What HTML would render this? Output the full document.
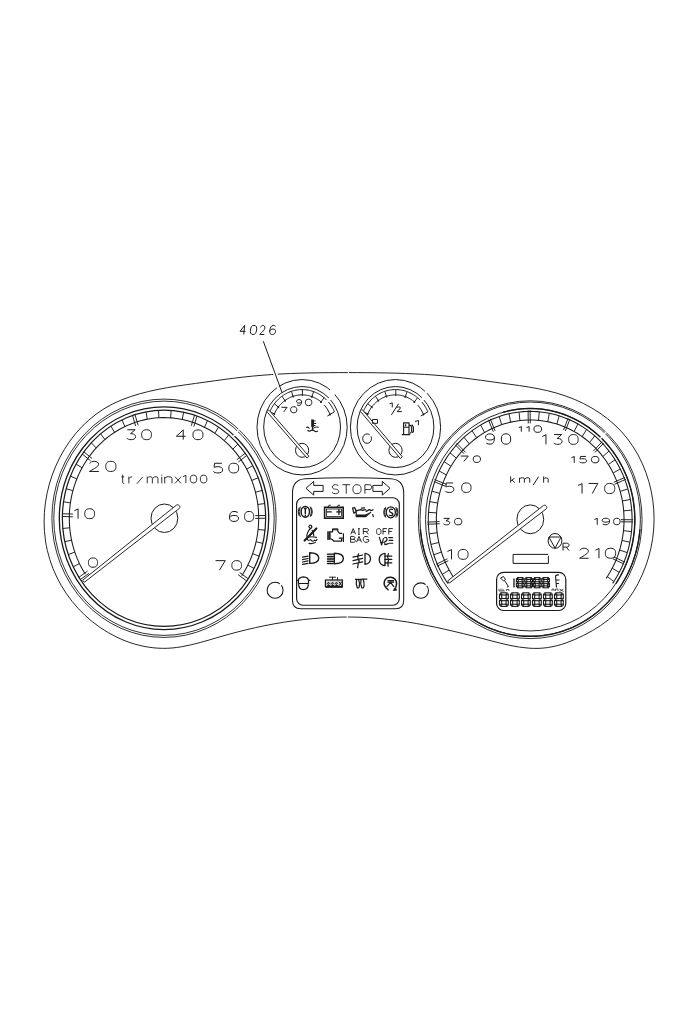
<!DOCTYPE html>
<html><head><meta charset="utf-8"><style>
html,body{margin:0;padding:0;background:#fff;}
svg{display:block;}
text{font-family:"Liberation Sans",sans-serif;}
</style></head><body>
<svg width="700" height="1020" viewBox="0 0 700 1020">
<rect width="700" height="1020" fill="#fff"/>
<path d="M347.98,372.60 C344.79,372.60 341.60,372.61 338.42,372.62 C335.23,372.63 332.04,372.64 328.86,372.67 C325.67,372.69 322.48,372.73 319.30,372.77 C316.12,372.82 312.93,372.87 309.75,372.94 C306.57,373.01 303.38,373.09 300.20,373.19 C297.02,373.29 293.84,373.40 290.66,373.53 C287.48,373.66 284.30,373.81 281.12,373.98 C277.95,374.15 274.77,374.34 271.59,374.55 C268.42,374.76 265.24,375.00 262.07,375.26 C258.90,375.51 255.72,375.80 252.55,376.11 C249.38,376.42 246.21,376.76 243.04,377.12 C239.87,377.48 236.70,377.86 233.54,378.26 C230.37,378.66 227.21,379.07 224.05,379.50 C220.89,379.92 217.73,380.36 214.57,380.79 C211.42,381.23 208.26,381.67 205.11,382.11 C201.96,382.55 198.81,382.99 195.67,383.42 C192.53,383.85 189.38,384.28 186.25,384.73 C183.11,385.17 179.98,385.63 176.85,386.11 C173.71,386.60 170.59,387.10 167.47,387.64 C164.34,388.19 161.22,388.77 158.11,389.40 C154.99,390.02 151.88,390.70 148.78,391.44 C145.67,392.18 142.57,392.98 139.47,393.85 C136.37,394.73 133.28,395.68 130.22,396.71 C127.15,397.75 124.12,398.87 121.14,400.09 C118.15,401.32 115.22,402.65 112.37,404.09 C109.51,405.53 106.73,407.10 104.03,408.77 C101.33,410.44 98.71,412.23 96.17,414.12 C93.63,416.00 91.17,418.00 88.80,420.08 C86.42,422.17 84.14,424.35 81.93,426.62 C79.73,428.88 77.62,431.24 75.59,433.67 C73.57,436.10 71.63,438.62 69.79,441.20 C67.94,443.78 66.19,446.43 64.53,449.15 C62.87,451.86 61.31,454.64 59.84,457.47 C58.38,460.30 57.01,463.18 55.74,466.11 C54.46,469.04 53.29,472.02 52.22,475.03 C51.15,478.04 50.18,481.10 49.32,484.18 C48.45,487.26 47.69,490.37 47.04,493.50 C46.39,496.63 45.84,499.78 45.40,502.94 C44.96,506.11 44.63,509.28 44.41,512.47 C44.20,515.65 44.09,518.84 44.10,522.02 C44.10,525.20 44.23,528.38 44.46,531.55 C44.70,534.72 45.06,537.88 45.53,541.02 C46.00,544.15 46.59,547.27 47.31,550.36 C48.02,553.45 48.85,556.51 49.80,559.54 C50.75,562.56 51.81,565.55 52.99,568.50 C54.17,571.45 55.45,574.36 56.85,577.22 C58.24,580.07 59.74,582.88 61.34,585.63 C62.94,588.39 64.64,591.08 66.45,593.71 C68.25,596.35 70.15,598.91 72.14,601.41 C74.13,603.91 76.21,606.34 78.38,608.69 C80.56,611.04 82.82,613.31 85.16,615.49 C87.51,617.68 89.94,619.78 92.44,621.79 C94.95,623.80 97.53,625.72 100.19,627.54 C102.84,629.36 105.56,631.07 108.34,632.68 C111.12,634.29 113.95,635.79 116.84,637.18 C119.73,638.57 122.66,639.84 125.64,640.98 C128.61,642.13 131.63,643.16 134.67,644.05 C137.72,644.94 140.79,645.70 143.89,646.33 C146.98,646.95 150.10,647.44 153.23,647.77 C156.35,648.11 159.49,648.30 162.63,648.34 C165.78,648.38 168.92,648.26 172.05,647.99 C175.19,647.71 178.32,647.30 181.45,646.77 C184.58,646.25 187.71,645.61 190.82,644.89 C193.94,644.17 197.06,643.38 200.17,642.53 C203.27,641.69 206.38,640.80 209.47,639.89 C212.57,638.99 215.66,638.07 218.74,637.17 C221.82,636.26 224.90,635.38 227.97,634.53 C231.04,633.68 234.10,632.85 237.17,632.05 C240.23,631.26 243.29,630.49 246.36,629.75 C249.43,629.01 252.50,628.29 255.58,627.61 C258.65,626.93 261.74,626.27 264.84,625.65 C267.94,625.03 271.04,624.43 274.17,623.87 C277.29,623.31 280.43,622.77 283.58,622.27 C286.72,621.77 289.88,621.30 293.05,620.87 C296.21,620.44 299.39,620.04 302.57,619.67 C305.75,619.31 308.94,618.98 312.13,618.68 C315.32,618.39 318.52,618.14 321.72,617.92 C324.92,617.70 328.12,617.52 331.32,617.38 C334.52,617.24 337.73,617.14 340.93,617.08 C344.13,617.03 347.32,617.01 350.52,617.03 C353.71,617.06 356.90,617.13 360.09,617.24 C363.27,617.35 366.45,617.51 369.62,617.71 C372.79,617.91 375.96,618.16 379.11,618.44 C382.27,618.72 385.43,619.05 388.57,619.41 C391.72,619.77 394.87,620.16 398.00,620.59 C401.14,621.02 404.28,621.49 407.41,621.99 C410.54,622.48 413.66,623.01 416.78,623.57 C419.91,624.12 423.02,624.71 426.14,625.32 C429.26,625.93 432.37,626.56 435.48,627.22 C438.59,627.88 441.70,628.56 444.81,629.26 C447.92,629.96 451.02,630.68 454.13,631.41 C457.23,632.15 460.33,632.90 463.44,633.67 C466.54,634.44 469.64,635.22 472.75,636.01 C475.85,636.80 478.95,637.61 482.06,638.42 C485.16,639.23 488.26,640.05 491.37,640.87 C494.47,641.69 497.58,642.49 500.69,643.26 C503.80,644.02 506.90,644.74 510.01,645.39 C513.12,646.04 516.23,646.62 519.34,647.09 C522.45,647.55 525.56,647.92 528.67,648.15 C531.78,648.37 534.89,648.46 538.00,648.38 C541.11,648.30 544.22,648.05 547.33,647.61 C550.44,647.16 553.55,646.54 556.64,645.75 C559.73,644.97 562.81,644.04 565.86,642.97 C568.91,641.91 571.93,640.72 574.92,639.44 C577.90,638.15 580.85,636.77 583.75,635.32 C586.65,633.87 589.49,632.34 592.28,630.73 C595.07,629.12 597.79,627.43 600.44,625.65 C603.09,623.87 605.66,622.01 608.15,620.04 C610.64,618.08 613.04,616.02 615.35,613.87 C617.65,611.71 619.85,609.45 621.95,607.09 C624.04,604.73 626.03,602.27 627.92,599.72 C629.81,597.18 631.59,594.55 633.27,591.85 C634.96,589.16 636.54,586.40 638.02,583.58 C639.50,580.76 640.88,577.89 642.17,574.98 C643.45,572.08 644.63,569.13 645.72,566.14 C646.80,563.15 647.78,560.13 648.66,557.08 C649.54,554.03 650.31,550.95 650.98,547.85 C651.65,544.75 652.21,541.62 652.66,538.48 C653.12,535.34 653.46,532.18 653.70,529.01 C653.94,525.83 654.06,522.65 654.08,519.47 C654.09,516.28 653.99,513.09 653.78,509.90 C653.57,506.71 653.24,503.52 652.80,500.35 C652.36,497.17 651.81,494.01 651.15,490.87 C650.49,487.73 649.72,484.61 648.84,481.53 C647.96,478.44 646.97,475.39 645.87,472.38 C644.78,469.37 643.57,466.41 642.26,463.50 C640.95,460.58 639.54,457.72 638.02,454.92 C636.50,452.13 634.87,449.39 633.14,446.73 C631.42,444.07 629.59,441.48 627.65,438.98 C625.72,436.47 623.69,434.05 621.56,431.72 C619.42,429.39 617.19,427.15 614.88,425.00 C612.56,422.85 610.16,420.79 607.68,418.83 C605.20,416.86 602.64,414.98 600.01,413.19 C597.38,411.40 594.69,409.70 591.94,408.09 C589.19,406.49 586.38,404.97 583.52,403.54 C580.66,402.11 577.76,400.77 574.81,399.53 C571.87,398.28 568.89,397.12 565.87,396.06 C562.86,394.99 559.83,394.02 556.77,393.13 C553.71,392.25 550.63,391.44 547.53,390.71 C544.44,389.98 541.33,389.31 538.20,388.71 C535.07,388.10 531.94,387.54 528.79,387.02 C525.64,386.51 522.49,386.03 519.33,385.57 C516.17,385.11 513.00,384.68 509.84,384.25 C506.67,383.82 503.50,383.40 500.34,382.98 C497.17,382.55 494.01,382.11 490.86,381.67 C487.70,381.23 484.54,380.79 481.39,380.35 C478.23,379.91 475.08,379.48 471.92,379.07 C468.77,378.65 465.61,378.24 462.45,377.86 C459.29,377.48 456.14,377.11 452.97,376.78 C449.81,376.45 446.64,376.14 443.48,375.85 C440.31,375.57 437.14,375.31 433.96,375.07 C430.79,374.83 427.62,374.62 424.44,374.42 C421.26,374.23 418.08,374.06 414.90,373.90 C411.72,373.74 408.54,373.60 405.36,373.48 C402.17,373.36 398.99,373.26 395.80,373.16 C392.62,373.07 389.43,373.00 386.24,372.93 C383.06,372.87 379.87,372.81 376.68,372.77 C373.49,372.73 370.30,372.69 367.11,372.67 C363.92,372.65 360.73,372.63 357.55,372.62 C354.36,372.61 351.17,372.60 347.98,372.60 Z" fill="none" stroke="#1a1a1a" stroke-width="0.95"/>
<rect x="347.9" y="370" width="0.9" height="5" fill="#fff"/>
<rect x="346.7" y="615" width="1.2" height="5" fill="#fff"/>
<path d="M273.3,374.7 L277.7,374.3" stroke="#fff" stroke-width="4"/>
<ellipse cx="164" cy="518.25" rx="112.1" ry="119.16" fill="none" stroke="#1a1a1a" stroke-width="0.9" />
<ellipse cx="164" cy="518.25" rx="110.2" ry="117.14" fill="none" stroke="#1a1a1a" stroke-width="0.9" />
<ellipse cx="164" cy="518.25" rx="104.7" ry="111.3" fill="none" stroke="#1a1a1a" stroke-width="1.3" />
<ellipse cx="164" cy="518.25" rx="101.65" ry="108.05" fill="none" stroke="#1a1a1a" stroke-width="1.2" />
<path d="M85.35,574.32 L83.55,571.36 L81.86,568.34 L80.26,565.25 L78.76,562.11 L77.37,558.91 L76.08,555.67 L74.91,552.37 L73.84,549.04 L72.88,545.67 L72.03,542.26 L71.3,538.82 L70.68,535.36 L70.17,531.88 L69.78,528.38 L69.51,524.87 L69.35,521.35 L69.3,517.83 L69.37,514.31 L69.56,510.79 L69.86,507.29 L70.28,503.79 L70.82,500.31 L71.46,496.86 L72.22,493.43 L73.1,490.03 L74.08,486.67 L75.18,483.34 L76.38,480.06 L77.69,476.82 L79.11,473.64 L80.63,470.51 L82.25,467.44 L83.97,464.43 L85.79,461.49 L87.71,458.61 L89.72,455.81 L91.82,453.09 L94.01,450.44 L96.28,447.88 L98.64,445.4 L101.08,443.02 L103.59,440.72 L106.18,438.52 L108.84,436.42 L111.57,434.42 L114.36,432.52 L117.21,430.73 L120.12,429.04 L123.09,427.46 L126.1,426 L129.16,424.64 L132.26,423.41 L135.4,422.28 L138.58,421.28 L141.79,420.39 L145.02,419.63 L148.28,418.98 L151.56,418.46 L154.85,418.06 L158.15,417.78 L161.46,417.62 L164.78,417.59 L168.09,417.68 L171.4,417.89 L174.7,418.23 L177.98,418.69 L181.25,419.27 L184.5,419.97 L187.72,420.79 L190.91,421.73 L194.07,422.8 L197.2,423.97 L200.28,425.26 L203.32,426.67 L206.31,428.19 L209.25,429.82 L212.13,431.56 L214.96,433.4 L217.72,435.35 L220.41,437.39 L223.04,439.54 L225.59,441.79 L228.07,444.12 L230.47,446.55 L232.79,449.07 L235.03,451.67 L237.18,454.35 L239.24,457.11 L241.2,459.95 L243.07,462.86 L244.85,465.83 L246.52,468.87 L248.1,471.97 L249.57,475.13 L250.94,478.34 L252.2,481.59 L253.35,484.9 L254.39,488.24 L255.33,491.62 L256.15,495.03 L256.85,498.48 L257.45,501.94 L257.93,505.43 L258.29,508.93 L258.54,512.44 L258.68,515.96 L258.69,519.48 L258.59,523.01 L258.38,526.52 L258.05,530.03 L257.6,533.52 L257.04,536.99 L256.37,540.44 L255.58,543.86 L254.69,547.25 L253.67,550.61 L252.56,553.92 L251.33,557.19 L249.99,560.42 L248.55,563.59 L247.01,566.71 L245.36,569.76 L243.62,572.76 L241.77,575.69" fill="none" stroke="#1a1a1a" stroke-width="1.05"/>
<line x1="79.43" y1="563.55" x2="73.23" y2="566.88" stroke="#1a1a1a" stroke-width="0.95" stroke-linecap="butt"/>
<line x1="74.81" y1="552.09" x2="68.26" y2="554.57" stroke="#1a1a1a" stroke-width="0.95" stroke-linecap="butt"/>
<line x1="71.56" y1="540.1" x2="64.77" y2="541.71" stroke="#1a1a1a" stroke-width="0.95" stroke-linecap="butt"/>
<line x1="69.73" y1="527.78" x2="62.81" y2="528.48" stroke="#1a1a1a" stroke-width="0.95" stroke-linecap="butt"/>
<line x1="70.41" y1="502.89" x2="63.54" y2="501.77" stroke="#1a1a1a" stroke-width="0.95" stroke-linecap="butt"/>
<line x1="72.91" y1="490.71" x2="66.23" y2="488.69" stroke="#1a1a1a" stroke-width="0.95" stroke-linecap="butt"/>
<line x1="76.82" y1="478.95" x2="70.42" y2="476.06" stroke="#1a1a1a" stroke-width="0.95" stroke-linecap="butt"/>
<line x1="82.06" y1="467.79" x2="76.04" y2="464.08" stroke="#1a1a1a" stroke-width="0.95" stroke-linecap="butt"/>
<line x1="96.22" y1="447.95" x2="91.24" y2="442.79" stroke="#1a1a1a" stroke-width="0.95" stroke-linecap="butt"/>
<line x1="104.92" y1="439.58" x2="100.58" y2="433.81" stroke="#1a1a1a" stroke-width="0.95" stroke-linecap="butt"/>
<line x1="114.52" y1="432.42" x2="110.89" y2="426.12" stroke="#1a1a1a" stroke-width="0.95" stroke-linecap="butt"/>
<line x1="124.89" y1="426.57" x2="122.02" y2="419.84" stroke="#1a1a1a" stroke-width="0.95" stroke-linecap="butt"/>
<line x1="147.25" y1="419.17" x2="146.02" y2="411.9" stroke="#1a1a1a" stroke-width="0.95" stroke-linecap="butt"/>
<line x1="158.91" y1="417.73" x2="158.53" y2="410.35" stroke="#1a1a1a" stroke-width="0.95" stroke-linecap="butt"/>
<line x1="170.64" y1="417.83" x2="171.13" y2="410.46" stroke="#1a1a1a" stroke-width="0.95" stroke-linecap="butt"/>
<line x1="182.27" y1="419.48" x2="183.62" y2="412.23" stroke="#1a1a1a" stroke-width="0.95" stroke-linecap="butt"/>
<line x1="204.52" y1="427.27" x2="207.5" y2="420.59" stroke="#1a1a1a" stroke-width="0.95" stroke-linecap="butt"/>
<line x1="214.8" y1="433.29" x2="218.52" y2="427.06" stroke="#1a1a1a" stroke-width="0.95" stroke-linecap="butt"/>
<line x1="224.29" y1="440.62" x2="228.71" y2="434.92" stroke="#1a1a1a" stroke-width="0.95" stroke-linecap="butt"/>
<line x1="232.86" y1="449.14" x2="237.91" y2="444.07" stroke="#1a1a1a" stroke-width="0.95" stroke-linecap="butt"/>
<line x1="246.71" y1="469.22" x2="252.78" y2="465.62" stroke="#1a1a1a" stroke-width="0.95" stroke-linecap="butt"/>
<line x1="251.78" y1="480.47" x2="258.22" y2="477.7" stroke="#1a1a1a" stroke-width="0.95" stroke-linecap="butt"/>
<line x1="255.5" y1="492.3" x2="262.21" y2="490.4" stroke="#1a1a1a" stroke-width="0.95" stroke-linecap="butt"/>
<line x1="257.82" y1="504.53" x2="264.7" y2="503.52" stroke="#1a1a1a" stroke-width="0.95" stroke-linecap="butt"/>
<line x1="258.11" y1="529.43" x2="265.02" y2="530.25" stroke="#1a1a1a" stroke-width="0.95" stroke-linecap="butt"/>
<line x1="256.09" y1="541.71" x2="262.85" y2="543.43" stroke="#1a1a1a" stroke-width="0.95" stroke-linecap="butt"/>
<line x1="252.66" y1="553.64" x2="259.16" y2="556.24" stroke="#1a1a1a" stroke-width="0.95" stroke-linecap="butt"/>
<line x1="247.86" y1="565.02" x2="254.01" y2="568.45" stroke="#1a1a1a" stroke-width="0.95" stroke-linecap="butt"/>
<path d="M88.98,573.4 L80.3,579.59 M87.53,571.1 L78.86,577.29" fill="none" stroke="#1a1a1a" stroke-width="0.95"/>
<path d="M72.8,516.81 L62.36,516.48 M72.88,514.04 L62.43,513.72" fill="none" stroke="#1a1a1a" stroke-width="0.95"/>
<path d="M90.56,460.75 L82.24,454.04 M92.13,458.55 L83.81,451.83" fill="none" stroke="#1a1a1a" stroke-width="0.95"/>
<path d="M135.65,426.1 L132.55,415.49 M138.14,425.27 L135.03,414.67" fill="none" stroke="#1a1a1a" stroke-width="0.95"/>
<path d="M191.3,425.74 L194.56,415.19 M193.77,426.6 L197.03,416.05" fill="none" stroke="#1a1a1a" stroke-width="0.95"/>
<path d="M236.78,459.81 L245.21,453.24 M238.32,462.04 L246.74,455.47" fill="none" stroke="#1a1a1a" stroke-width="0.95"/>
<path d="M255.18,515.63 L265.63,515.49 M255.21,518.4 L265.66,518.26" fill="none" stroke="#1a1a1a" stroke-width="0.95"/>
<path d="M239.64,572.43 L248.22,578.77 M238.16,574.7 L246.74,581.04" fill="none" stroke="#1a1a1a" stroke-width="0.95"/>
<path d="M0,0.2 L0.95,0.02 M0.95,0 L0.95,1" transform="translate(74.35,508.75) scale(3.9,9.9)" fill="none" stroke="#1a1a1a" stroke-width="1" vector-effect="non-scaling-stroke"/>
<path d="M0.5,0 C0.9,0 1,0.22 1,0.5 C1,0.78 0.9,1 0.5,1 C0.1,1 0,0.78 0,0.5 C0,0.22 0.1,0 0.5,0 Z" transform="translate(84.75,508.75) scale(9.8,9.9)" fill="none" stroke="#1a1a1a" stroke-width="1" vector-effect="non-scaling-stroke"/>
<path d="M0.5,0 C0.9,0 1,0.22 1,0.5 C1,0.78 0.9,1 0.5,1 C0.1,1 0,0.78 0,0.5 C0,0.22 0.1,0 0.5,0 Z" transform="translate(88.45,557.95) scale(9.1,9.3)" fill="none" stroke="#1a1a1a" stroke-width="1" vector-effect="non-scaling-stroke"/>
<path d="M0.03,0.22 C0.12,0.04 0.3,0 0.5,0 C0.78,0 0.97,0.1 0.97,0.3 C0.97,0.5 0.55,0.7 0,1 L1,1" transform="translate(89.45,461.35) scale(9.4,10.1)" fill="none" stroke="#1a1a1a" stroke-width="1" vector-effect="non-scaling-stroke"/>
<path d="M0.5,0 C0.9,0 1,0.22 1,0.5 C1,0.78 0.9,1 0.5,1 C0.1,1 0,0.78 0,0.5 C0,0.22 0.1,0 0.5,0 Z" transform="translate(105.75,461.35) scale(10.2,10.1)" fill="none" stroke="#1a1a1a" stroke-width="1" vector-effect="non-scaling-stroke"/>
<path d="M0.05,0 L0.95,0 L0.42,0.4 C0.85,0.38 1,0.55 1,0.7 C1,0.92 0.75,1 0.5,1 C0.25,1 0.08,0.95 0,0.84" transform="translate(126.85,429.75) scale(8.7,9.9)" fill="none" stroke="#1a1a1a" stroke-width="1" vector-effect="non-scaling-stroke"/>
<path d="M0.5,0 C0.9,0 1,0.22 1,0.5 C1,0.78 0.9,1 0.5,1 C0.1,1 0,0.78 0,0.5 C0,0.22 0.1,0 0.5,0 Z" transform="translate(141.65,429.75) scale(9.8,9.9)" fill="none" stroke="#1a1a1a" stroke-width="1" vector-effect="non-scaling-stroke"/>
<path d="M0.74,1 L0.74,0 L0,0.65 L1,0.65" transform="translate(176.35,429.95) scale(9.3,9.7)" fill="none" stroke="#1a1a1a" stroke-width="1" vector-effect="non-scaling-stroke"/>
<path d="M0.5,0 C0.9,0 1,0.22 1,0.5 C1,0.78 0.9,1 0.5,1 C0.1,1 0,0.78 0,0.5 C0,0.22 0.1,0 0.5,0 Z" transform="translate(192.95,429.95) scale(10,9.7)" fill="none" stroke="#1a1a1a" stroke-width="1" vector-effect="non-scaling-stroke"/>
<path d="M0.92,0 L0.14,0 L0.08,0.42 C0.22,0.36 0.36,0.35 0.5,0.35 C0.82,0.35 1,0.48 1,0.68 C1,0.9 0.8,1 0.5,1 C0.25,1 0.08,0.95 0,0.84" transform="translate(213.35,463.25) scale(9.3,9.7)" fill="none" stroke="#1a1a1a" stroke-width="1" vector-effect="non-scaling-stroke"/>
<path d="M0.5,0 C0.9,0 1,0.22 1,0.5 C1,0.78 0.9,1 0.5,1 C0.1,1 0,0.78 0,0.5 C0,0.22 0.1,0 0.5,0 Z" transform="translate(228.85,463.25) scale(9.8,9.7)" fill="none" stroke="#1a1a1a" stroke-width="1" vector-effect="non-scaling-stroke"/>
<path d="M0.92,0.1 C0.8,0.03 0.65,0 0.5,0 C0.15,0 0,0.25 0,0.6 C0,0.88 0.2,1 0.5,1 C0.8,1 1,0.88 1,0.68 C1,0.48 0.8,0.4 0.5,0.4 C0.2,0.4 0,0.5 0,0.66" transform="translate(229.45,511.45) scale(9.1,10)" fill="none" stroke="#1a1a1a" stroke-width="1" vector-effect="non-scaling-stroke"/>
<path d="M0.5,0 C0.9,0 1,0.22 1,0.5 C1,0.78 0.9,1 0.5,1 C0.1,1 0,0.78 0,0.5 C0,0.22 0.1,0 0.5,0 Z" transform="translate(244.55,511.45) scale(9.1,10)" fill="none" stroke="#1a1a1a" stroke-width="1" vector-effect="non-scaling-stroke"/>
<path d="M0,0 L1,0 L0.4,1" transform="translate(215.55,560.65) scale(9.7,9.5)" fill="none" stroke="#1a1a1a" stroke-width="1" vector-effect="non-scaling-stroke"/>
<path d="M0.5,0 C0.9,0 1,0.22 1,0.5 C1,0.78 0.9,1 0.5,1 C0.1,1 0,0.78 0,0.5 C0,0.22 0.1,0 0.5,0 Z" transform="translate(231.85,560.65) scale(9.7,9.5)" fill="none" stroke="#1a1a1a" stroke-width="1" vector-effect="non-scaling-stroke"/>
<path d="M0.45,0 L0.45,0.88 Q0.45,1 0.7,1 L1,1 M0,0.25 L1,0.25" transform="translate(121.4,474.7) scale(2.8,8.7)" fill="none" stroke="#1a1a1a" stroke-width="0.9" vector-effect="non-scaling-stroke"/>
<path d="M0.05,0.23 L0.05,1 M0.05,0.45 Q0.3,0.23 1,0.25" transform="translate(128.7,474.7) scale(3.4,8.7)" fill="none" stroke="#1a1a1a" stroke-width="0.9" vector-effect="non-scaling-stroke"/>
<path d="M0,1.05 L1,0.25" transform="translate(136.8,474.7) scale(6,8.7)" fill="none" stroke="#1a1a1a" stroke-width="0.9" vector-effect="non-scaling-stroke"/>
<path d="M0.03,0.23 L0.03,1 M0.03,0.42 Q0.12,0.23 0.3,0.23 Q0.48,0.23 0.48,0.42 L0.48,1 M0.52,0.42 Q0.62,0.23 0.8,0.23 Q0.97,0.23 0.97,0.42 L0.97,1" transform="translate(146.9,474.7) scale(11.4,8.7)" fill="none" stroke="#1a1a1a" stroke-width="0.9" vector-effect="non-scaling-stroke"/>
<path d="M0.5,0.23 L0.5,1 M0.5,0 L0.5,0.1" transform="translate(160.5,474.7) scale(2.5,8.7)" fill="none" stroke="#1a1a1a" stroke-width="0.9" vector-effect="non-scaling-stroke"/>
<path d="M0.05,0.23 L0.05,1 M0.05,0.42 Q0.2,0.23 0.5,0.23 Q0.95,0.23 0.95,0.42 L0.95,1" transform="translate(164.3,474.7) scale(8.1,8.7)" fill="none" stroke="#1a1a1a" stroke-width="0.9" vector-effect="non-scaling-stroke"/>
<path d="M0,0.23 L1,1 M1,0.23 L0,1" transform="translate(175,474.7) scale(6.1,8.7)" fill="none" stroke="#1a1a1a" stroke-width="0.9" vector-effect="non-scaling-stroke"/>
<path d="M0,0.2 L0.95,0.02 M0.95,0 L0.95,1" transform="translate(182.85,475.15) scale(3.2,7.8)" fill="none" stroke="#1a1a1a" stroke-width="0.9" vector-effect="non-scaling-stroke"/>
<path d="M0.5,0 C0.9,0 1,0.22 1,0.5 C1,0.78 0.9,1 0.5,1 C0.1,1 0,0.78 0,0.5 C0,0.22 0.1,0 0.5,0 Z" transform="translate(190.25,475.15) scale(6.5,7.8)" fill="none" stroke="#1a1a1a" stroke-width="0.9" vector-effect="non-scaling-stroke"/>
<path d="M0.5,0 C0.9,0 1,0.22 1,0.5 C1,0.78 0.9,1 0.5,1 C0.1,1 0,0.78 0,0.5 C0,0.22 0.1,0 0.5,0 Z" transform="translate(200.35,475.15) scale(6.5,7.8)" fill="none" stroke="#1a1a1a" stroke-width="0.9" vector-effect="non-scaling-stroke"/>
<ellipse cx="164.4" cy="518.25" rx="13.4" ry="14.25" fill="none" stroke="#1a1a1a" stroke-width="1" />
<path d="M176.24,505.27 L82.66,580.13 L84.34,582.27 L178.96,508.73 L179.36,508.32 L179.64,507.81 L179.78,507.26 L179.78,506.68 L179.62,506.13 L179.33,505.64 L178.92,505.24 L178.41,504.96 L177.86,504.82 L177.28,504.82 L176.73,504.98 Z" fill="#fff" stroke="#1a1a1a" stroke-width="0.95" stroke-linejoin="round"/>
<ellipse cx="530.2" cy="519.7" rx="111.85" ry="118.9" fill="none" stroke="#1a1a1a" stroke-width="0.9" />
<ellipse cx="530.2" cy="519.2" rx="110.2" ry="117.14" fill="none" stroke="#1a1a1a" stroke-width="0.9" />
<path d="M639.98,529.41 L639.58,533.48 L639.04,537.53 L638.38,541.55 L637.58,545.55 L636.65,549.52 L635.58,553.45 L634.4,557.34 L633.08,561.18 L631.64,564.97 L630.08,568.71 L628.39,572.38 L626.58,575.99 L624.66,579.53 L622.62,583 L620.47,586.39 L618.21,589.7 L615.84,592.92 L613.37,596.05 L610.8,599.09 L608.12,602.03 L605.36,604.87 L602.5,607.61 L599.55,610.24 L596.52,612.75 L593.41,615.16 L590.22,617.44 L586.96,619.61 L583.63,621.66 L580.23,623.57 L576.77,625.37 L573.26,627.03 L569.69,628.56 L566.08,629.96 L562.42,631.22 L558.72,632.35 L554.99,633.34 L551.23,634.19 L547.44,634.9 L543.63,635.47 L539.8,635.9 L535.97,636.18 L532.12,636.32 L528.28,636.32 L524.43,636.18 L520.6,635.9 L516.77,635.47 L512.96,634.9 L509.17,634.19 L505.41,633.34 L501.68,632.35 L497.98,631.22 L494.32,629.96 L490.71,628.56 L487.14,627.03 L483.63,625.37 L480.17,623.57 L476.77,621.66 L473.44,619.61 L470.18,617.44 L466.99,615.16 L463.88,612.75 L460.85,610.24 L457.9,607.61 L455.04,604.87 L452.28,602.03 L449.6,599.09 L447.03,596.05 L444.56,592.92 L442.19,589.7 L439.93,586.39 L437.78,583 L435.74,579.53 L433.82,575.99 L432.01,572.38 L430.32,568.71 L428.76,564.97 L427.32,561.18 L426,557.34 L424.82,553.45 L423.75,549.52 L422.82,545.55 L422.02,541.55 L421.36,537.53 L420.82,533.48 L420.42,529.41" fill="none" stroke="#1a1a1a" stroke-width="1.4"/>
<ellipse cx="530.2" cy="519.7" rx="104.65" ry="111.24" fill="none" stroke="#1a1a1a" stroke-width="0.95" />
<path d="M503.11,412.25 L506.66,411.31 L510.23,410.5 L513.83,409.83 L517.45,409.29 L521.08,408.88 L524.72,408.61 L528.37,408.47 L532.03,408.47 L535.68,408.61 L539.32,408.88 L542.95,409.29 L546.57,409.83 L550.17,410.5 L553.74,411.31 L557.29,412.25 L560.8,413.32 L564.27,414.52 L567.7,415.85 L571.09,417.3 L574.43,418.88 L577.71,420.58 L580.94,422.4 L584.1,424.35 L587.2,426.4 L590.22,428.58 L593.18,430.86 L596.06,433.25 L598.86,435.74 L601.57,438.34 L604.2,441.04 L606.74,443.83 L609.18,446.72 L611.53,449.69 L613.78,452.75 L615.92,455.89 L617.97,459.11 L619.9,462.41 L621.73,465.77 L623.44,469.2 L625.05,472.69 L626.53,476.23 L627.9,479.83 L629.15,483.48 L630.28,487.18 L631.28,490.91 L632.17,494.68 L632.93,498.47 L633.56,502.3 L634.07,506.14 L634.45,510 L634.71,513.88 L634.83,517.76 L634.83,521.64 L634.71,525.52 L634.45,529.4 L634.07,533.26 L633.56,537.1 L632.93,540.93 L632.17,544.72 L631.28,548.49 L630.28,552.22 L629.15,555.92 L627.9,559.57 L626.53,563.17 L625.05,566.71 L623.44,570.2 L621.73,573.63 L619.9,576.99 L617.97,580.29 L615.92,583.51" fill="none" stroke="#1a1a1a" stroke-width="1.4"/>
<path d="M447.76,583.37 L445.72,580.27 L443.78,577.1 L441.95,573.86 L440.23,570.55 L438.61,567.18 L437.11,563.76 L435.72,560.28 L434.45,556.75 L433.29,553.17 L432.25,549.56 L431.33,545.9 L430.53,542.22 L429.85,538.51 L429.29,534.78 L428.86,531.02 L428.55,527.26 L428.36,523.48 L428.3,519.7 L428.36,515.92 L428.55,512.14 L428.86,508.38 L429.29,504.62 L429.85,500.89 L430.53,497.18 L431.33,493.5 L432.25,489.84 L433.29,486.23 L434.45,482.65 L435.72,479.12 L437.11,475.64 L438.61,472.22 L440.23,468.85 L441.95,465.54 L443.78,462.3 L445.72,459.13 L447.76,456.03 L449.9,453.01 L452.14,450.07 L454.47,447.22 L456.9,444.45 L459.41,441.78 L462.02,439.2 L464.7,436.72 L467.46,434.34 L470.3,432.07 L473.22,429.9 L476.2,427.84 L479.25,425.89 L482.36,424.06 L485.53,422.34 L488.75,420.75 L492.03,419.27 L495.35,417.91 L498.71,416.68 L502.11,415.58 L505.55,414.6 L509.01,413.75 L512.51,413.03 L516.02,412.43 L519.55,411.97 L523.09,411.64 L526.64,411.45 L530.2,411.38 L533.76,411.45 L537.31,411.64 L540.85,411.97 L544.38,412.43 L547.89,413.03 L551.39,413.75 L554.85,414.6 L558.29,415.58 L561.69,416.68 L565.05,417.91 L568.37,419.27 L571.65,420.75 L574.87,422.34 L578.04,424.06 L581.15,425.89 L584.2,427.84 L587.18,429.9 L590.1,432.07 L592.94,434.34 L595.7,436.72 L598.38,439.2 L600.99,441.78 L603.5,444.45 L605.93,447.22 L608.26,450.07 L610.5,453.01 L612.64,456.03 L614.68,459.13 L616.62,462.3 L618.45,465.54 L620.17,468.85 L621.79,472.22 L623.29,475.64 L624.68,479.12 L625.95,482.65 L627.11,486.23 L628.15,489.84 L629.07,493.5 L629.87,497.18 L630.55,500.89 L631.11,504.62 L631.54,508.38 L631.85,512.14 L632.04,515.92 L632.1,519.7 L632.04,523.48 L631.85,527.26 L631.54,531.02 L631.11,534.78 L630.55,538.51 L629.87,542.22 L629.07,545.9 L628.15,549.56 L627.11,553.17 L625.95,556.75 L624.68,560.28 L623.29,563.76 L621.79,567.18 L620.17,570.55 L618.45,573.86 L616.62,577.1 L614.68,580.27 L612.64,583.37" fill="none" stroke="#1a1a1a" stroke-width="1.05"/>
<path d="M454.27,578.34 L452.39,575.49 L450.61,572.57 L448.92,569.58 L447.34,566.54 L445.85,563.43 L444.46,560.28 L443.18,557.07 L442.01,553.82 L440.94,550.53 L439.99,547.2 L439.14,543.83 L438.4,540.44 L437.78,537.02 L437.26,533.58 L436.86,530.13 L436.58,526.66 L436.41,523.18 L436.35,519.7 L436.41,516.22 L436.58,512.74 L436.86,509.27 L437.26,505.82 L437.78,502.38 L438.4,498.96 L439.14,495.57 L439.99,492.2 L440.94,488.87 L442.01,485.58 L443.18,482.33 L444.46,479.12 L445.85,475.97 L447.34,472.86 L448.92,469.82 L450.61,466.83 L452.39,463.91 L454.27,461.06 L456.25,458.28 L458.31,455.57 L460.46,452.95 L462.69,450.4 L465.01,447.94 L467.4,445.56 L469.87,443.28 L472.42,441.09 L475.04,438.99 L477.72,436.99 L480.47,435.1 L483.28,433.3 L486.14,431.61 L489.06,430.03 L492.03,428.56 L495.04,427.2 L498.1,425.95 L501.2,424.82 L504.33,423.8 L507.5,422.9 L510.69,422.12 L513.9,421.45 L517.14,420.91 L520.39,420.48 L523.65,420.18 L526.92,420 L530.2,419.94 L533.48,420 L536.75,420.18 L540.01,420.48 L543.26,420.91 L546.5,421.45 L549.71,422.12 L552.9,422.9 L556.07,423.8 L559.2,424.82 L562.3,425.95 L565.36,427.2 L568.37,428.56 L571.34,430.03 L574.26,431.61 L577.12,433.3 L579.93,435.1 L582.68,436.99 L585.36,438.99 L587.98,441.09 L590.53,443.28 L593,445.56 L595.39,447.94 L597.71,450.4 L599.94,452.95 L602.09,455.57 L604.15,458.28 L606.13,461.06 L608.01,463.91 L609.79,466.83 L611.48,469.82 L613.06,472.86 L614.55,475.97 L615.94,479.12 L617.22,482.33 L618.39,485.58 L619.46,488.87 L620.41,492.2 L621.26,495.57 L622,498.96 L622.62,502.38 L623.14,505.82 L623.54,509.27 L623.82,512.74 L623.99,516.22 L624.05,519.7 L623.99,523.18 L623.82,526.66 L623.54,530.13 L623.14,533.58 L622.62,537.02 L622,540.44 L621.26,543.83 L620.41,547.2 L619.46,550.53 L618.39,553.82 L617.22,557.07 L615.94,560.28 L614.55,563.43 L613.06,566.54 L611.48,569.58 L609.79,572.57 L608.01,575.49 L606.13,578.34" fill="none" stroke="#1a1a1a" stroke-width="1.05"/>
<line x1="454.27" y1="578.34" x2="447.76" y2="583.37" stroke="#1a1a1a" stroke-width="0.95" stroke-linecap="butt"/>
<line x1="449.17" y1="570.03" x2="442.22" y2="574.35" stroke="#1a1a1a" stroke-width="0.95" stroke-linecap="butt"/>
<line x1="441.41" y1="552.01" x2="433.79" y2="554.79" stroke="#1a1a1a" stroke-width="0.95" stroke-linecap="butt"/>
<line x1="438.83" y1="542.48" x2="430.99" y2="544.43" stroke="#1a1a1a" stroke-width="0.95" stroke-linecap="butt"/>
<line x1="437.15" y1="532.72" x2="429.17" y2="533.84" stroke="#1a1a1a" stroke-width="0.95" stroke-linecap="butt"/>
<line x1="436.57" y1="512.91" x2="428.54" y2="512.33" stroke="#1a1a1a" stroke-width="0.95" stroke-linecap="butt"/>
<line x1="437.66" y1="503.06" x2="429.73" y2="501.64" stroke="#1a1a1a" stroke-width="0.95" stroke-linecap="butt"/>
<line x1="439.68" y1="493.38" x2="431.91" y2="491.12" stroke="#1a1a1a" stroke-width="0.95" stroke-linecap="butt"/>
<line x1="446.36" y1="474.87" x2="439.17" y2="471.03" stroke="#1a1a1a" stroke-width="0.95" stroke-linecap="butt"/>
<line x1="450.96" y1="466.24" x2="444.16" y2="461.66" stroke="#1a1a1a" stroke-width="0.95" stroke-linecap="butt"/>
<line x1="456.35" y1="458.14" x2="450.01" y2="452.86" stroke="#1a1a1a" stroke-width="0.95" stroke-linecap="butt"/>
<line x1="469.25" y1="443.84" x2="464.02" y2="437.33" stroke="#1a1a1a" stroke-width="0.95" stroke-linecap="butt"/>
<line x1="476.64" y1="437.78" x2="472.04" y2="430.75" stroke="#1a1a1a" stroke-width="0.95" stroke-linecap="butt"/>
<line x1="484.56" y1="432.53" x2="480.64" y2="425.05" stroke="#1a1a1a" stroke-width="0.95" stroke-linecap="butt"/>
<line x1="501.67" y1="424.66" x2="499.22" y2="416.51" stroke="#1a1a1a" stroke-width="0.95" stroke-linecap="butt"/>
<line x1="510.69" y1="422.12" x2="509.01" y2="413.75" stroke="#1a1a1a" stroke-width="0.95" stroke-linecap="butt"/>
<line x1="519.9" y1="420.54" x2="519.02" y2="412.03" stroke="#1a1a1a" stroke-width="0.95" stroke-linecap="butt"/>
<line x1="538.54" y1="420.33" x2="539.26" y2="411.81" stroke="#1a1a1a" stroke-width="0.95" stroke-linecap="butt"/>
<line x1="547.79" y1="421.7" x2="549.29" y2="413.3" stroke="#1a1a1a" stroke-width="0.95" stroke-linecap="butt"/>
<line x1="556.85" y1="424.05" x2="559.14" y2="415.84" stroke="#1a1a1a" stroke-width="0.95" stroke-linecap="butt"/>
<line x1="574.12" y1="431.53" x2="577.88" y2="423.97" stroke="#1a1a1a" stroke-width="0.95" stroke-linecap="butt"/>
<line x1="582.14" y1="436.61" x2="586.59" y2="429.48" stroke="#1a1a1a" stroke-width="0.95" stroke-linecap="butt"/>
<line x1="589.64" y1="442.5" x2="594.74" y2="435.88" stroke="#1a1a1a" stroke-width="0.95" stroke-linecap="butt"/>
<line x1="602.82" y1="456.51" x2="609.05" y2="451.09" stroke="#1a1a1a" stroke-width="0.95" stroke-linecap="butt"/>
<line x1="608.37" y1="464.49" x2="615.07" y2="459.76" stroke="#1a1a1a" stroke-width="0.95" stroke-linecap="butt"/>
<line x1="613.14" y1="473.02" x2="620.26" y2="469.01" stroke="#1a1a1a" stroke-width="0.95" stroke-linecap="butt"/>
<line x1="620.19" y1="491.37" x2="627.9" y2="488.94" stroke="#1a1a1a" stroke-width="0.95" stroke-linecap="butt"/>
<line x1="622.39" y1="501.01" x2="630.3" y2="499.4" stroke="#1a1a1a" stroke-width="0.95" stroke-linecap="butt"/>
<line x1="623.68" y1="510.83" x2="631.7" y2="510.07" stroke="#1a1a1a" stroke-width="0.95" stroke-linecap="butt"/>
<line x1="623.48" y1="530.65" x2="631.48" y2="531.59" stroke="#1a1a1a" stroke-width="0.95" stroke-linecap="butt"/>
<line x1="622" y1="540.44" x2="629.87" y2="542.22" stroke="#1a1a1a" stroke-width="0.95" stroke-linecap="butt"/>
<line x1="619.61" y1="550.03" x2="627.28" y2="552.63" stroke="#1a1a1a" stroke-width="0.95" stroke-linecap="butt"/>
<line x1="612.2" y1="568.22" x2="619.24" y2="572.38" stroke="#1a1a1a" stroke-width="0.95" stroke-linecap="butt"/>
<line x1="607.26" y1="576.64" x2="613.88" y2="581.52" stroke="#1a1a1a" stroke-width="0.95" stroke-linecap="butt"/>
<path d="M448.24,560.76 L437.06,566.2 M447.41,558.82 L436.22,564.27" fill="none" stroke="#1a1a1a" stroke-width="0.95"/>
<path d="M439.68,523.79 L427.38,524.2 M439.61,521.66 L427.32,522.07" fill="none" stroke="#1a1a1a" stroke-width="0.95"/>
<path d="M445.26,486.18 L433.78,481.49 M445.98,484.19 L434.49,479.51" fill="none" stroke="#1a1a1a" stroke-width="0.95"/>
<path d="M464.12,453.81 L455.24,444.76 M465.5,452.27 L456.62,443.22" fill="none" stroke="#1a1a1a" stroke-width="0.95"/>
<path d="M493.3,431.74 L488.42,419.74 M495.14,430.89 L490.25,418.89" fill="none" stroke="#1a1a1a" stroke-width="0.95"/>
<path d="M528.25,423.41 L528.12,410.33 M530.25,423.39 L530.12,410.31" fill="none" stroke="#1a1a1a" stroke-width="0.95"/>
<path d="M563.51,430.13 L568.15,418.02 M565.36,430.93 L570.01,418.83" fill="none" stroke="#1a1a1a" stroke-width="0.95"/>
<path d="M593.56,450.85 L602.25,441.6 M594.97,452.35 L603.67,443.11" fill="none" stroke="#1a1a1a" stroke-width="0.95"/>
<path d="M613.71,482.33 L625.09,477.39 M614.46,484.3 L625.85,479.35" fill="none" stroke="#1a1a1a" stroke-width="0.95"/>
<path d="M620.81,519.65 L633.1,519.78 M620.78,521.77 L633.08,521.91" fill="none" stroke="#1a1a1a" stroke-width="0.95"/>
<path d="M613.75,556.97 L625.03,562.17 M612.95,558.92 L624.24,564.12" fill="none" stroke="#1a1a1a" stroke-width="0.95"/>
<path d="M0,0.2 L0.95,0.02 M0.95,0 L0.95,1" transform="translate(447.45,549.45) scale(4.3,9.9)" fill="none" stroke="#1a1a1a" stroke-width="1" vector-effect="non-scaling-stroke"/>
<path d="M0.5,0 C0.9,0 1,0.22 1,0.5 C1,0.78 0.9,1 0.5,1 C0.1,1 0,0.78 0,0.5 C0,0.22 0.1,0 0.5,0 Z" transform="translate(458.2,549.45) scale(9.85,9.9)" fill="none" stroke="#1a1a1a" stroke-width="1" vector-effect="non-scaling-stroke"/>
<path d="M0.92,0 L0.14,0 L0.08,0.42 C0.22,0.36 0.36,0.35 0.5,0.35 C0.82,0.35 1,0.48 1,0.68 C1,0.9 0.8,1 0.5,1 C0.25,1 0.08,0.95 0,0.84" transform="translate(445.15,482.95) scale(8.7,9.5)" fill="none" stroke="#1a1a1a" stroke-width="1" vector-effect="non-scaling-stroke"/>
<path d="M0.5,0 C0.9,0 1,0.22 1,0.5 C1,0.78 0.9,1 0.5,1 C0.1,1 0,0.78 0,0.5 C0,0.22 0.1,0 0.5,0 Z" transform="translate(461.65,482.95) scale(9.4,9.5)" fill="none" stroke="#1a1a1a" stroke-width="1" vector-effect="non-scaling-stroke"/>
<path d="M0.08,0.9 C0.2,0.97 0.35,1 0.5,1 C0.85,1 1,0.75 1,0.4 C1,0.12 0.8,0 0.5,0 C0.2,0 0,0.12 0,0.32 C0,0.52 0.2,0.6 0.5,0.6 C0.8,0.6 1,0.5 1,0.34" transform="translate(485.55,433.85) scale(8.9,10.3)" fill="none" stroke="#1a1a1a" stroke-width="1" vector-effect="non-scaling-stroke"/>
<path d="M0.5,0 C0.9,0 1,0.22 1,0.5 C1,0.78 0.9,1 0.5,1 C0.1,1 0,0.78 0,0.5 C0,0.22 0.1,0 0.5,0 Z" transform="translate(501.35,433.85) scale(9.3,10.3)" fill="none" stroke="#1a1a1a" stroke-width="1" vector-effect="non-scaling-stroke"/>
<path d="M0,0.2 L0.95,0.02 M0.95,0 L0.95,1" transform="translate(542.25,434.55) scale(3.9,9.8)" fill="none" stroke="#1a1a1a" stroke-width="1" vector-effect="non-scaling-stroke"/>
<path d="M0.05,0 L0.95,0 L0.42,0.4 C0.85,0.38 1,0.55 1,0.7 C1,0.92 0.75,1 0.5,1 C0.25,1 0.08,0.95 0,0.84" transform="translate(553.65,434.55) scale(8.4,9.8)" fill="none" stroke="#1a1a1a" stroke-width="1" vector-effect="non-scaling-stroke"/>
<path d="M0.5,0 C0.9,0 1,0.22 1,0.5 C1,0.78 0.9,1 0.5,1 C0.1,1 0,0.78 0,0.5 C0,0.22 0.1,0 0.5,0 Z" transform="translate(568.65,434.55) scale(9.5,9.8)" fill="none" stroke="#1a1a1a" stroke-width="1" vector-effect="non-scaling-stroke"/>
<path d="M0,0.2 L0.95,0.02 M0.95,0 L0.95,1" transform="translate(578.15,483.45) scale(4.1,10.1)" fill="none" stroke="#1a1a1a" stroke-width="1" vector-effect="non-scaling-stroke"/>
<path d="M0,0 L1,0 L0.4,1" transform="translate(588.55,483.45) scale(9.3,10.1)" fill="none" stroke="#1a1a1a" stroke-width="1" vector-effect="non-scaling-stroke"/>
<path d="M0.5,0 C0.9,0 1,0.22 1,0.5 C1,0.78 0.9,1 0.5,1 C0.1,1 0,0.78 0,0.5 C0,0.22 0.1,0 0.5,0 Z" transform="translate(604.65,483.45) scale(10.1,10.1)" fill="none" stroke="#1a1a1a" stroke-width="1" vector-effect="non-scaling-stroke"/>
<path d="M0.03,0.22 C0.12,0.04 0.3,0 0.5,0 C0.78,0 0.97,0.1 0.97,0.3 C0.97,0.5 0.55,0.7 0,1 L1,1" transform="translate(579.65,548.25) scale(9,10)" fill="none" stroke="#1a1a1a" stroke-width="1" vector-effect="non-scaling-stroke"/>
<path d="M0,0.2 L0.95,0.02 M0.95,0 L0.95,1" transform="translate(595.35,548.25) scale(3.8,10)" fill="none" stroke="#1a1a1a" stroke-width="1" vector-effect="non-scaling-stroke"/>
<path d="M0.5,0 C0.9,0 1,0.22 1,0.5 C1,0.78 0.9,1 0.5,1 C0.1,1 0,0.78 0,0.5 C0,0.22 0.1,0 0.5,0 Z" transform="translate(605.35,548.25) scale(10.3,10)" fill="none" stroke="#1a1a1a" stroke-width="1" vector-effect="non-scaling-stroke"/>
<path d="M0.05,0 L0.95,0 L0.42,0.4 C0.85,0.38 1,0.55 1,0.7 C1,0.92 0.75,1 0.5,1 C0.25,1 0.08,0.95 0,0.84" transform="translate(443.35,518.35) scale(6.4,6.5)" fill="none" stroke="#1a1a1a" stroke-width="1" vector-effect="non-scaling-stroke"/>
<path d="M0.5,0 C0.9,0 1,0.22 1,0.5 C1,0.78 0.9,1 0.5,1 C0.1,1 0,0.78 0,0.5 C0,0.22 0.1,0 0.5,0 Z" transform="translate(454.55,518.35) scale(7.2,6.5)" fill="none" stroke="#1a1a1a" stroke-width="1" vector-effect="non-scaling-stroke"/>
<path d="M0,0 L1,0 L0.4,1" transform="translate(460.75,456.05) scale(7.5,5.5)" fill="none" stroke="#1a1a1a" stroke-width="1" vector-effect="non-scaling-stroke"/>
<path d="M0.5,0 C0.9,0 1,0.22 1,0.5 C1,0.78 0.9,1 0.5,1 C0.1,1 0,0.78 0,0.5 C0,0.22 0.1,0 0.5,0 Z" transform="translate(473.25,455.85) scale(7.2,6.6)" fill="none" stroke="#1a1a1a" stroke-width="1" vector-effect="non-scaling-stroke"/>
<path d="M0,0.2 L0.95,0.02 M0.95,0 L0.95,1" transform="translate(518.75,426.55) scale(2.7,5.1)" fill="none" stroke="#1a1a1a" stroke-width="1" vector-effect="non-scaling-stroke"/>
<path d="M0,0.2 L0.95,0.02 M0.95,0 L0.95,1" transform="translate(526.45,426.55) scale(2.8,5.1)" fill="none" stroke="#1a1a1a" stroke-width="1" vector-effect="non-scaling-stroke"/>
<path d="M0.5,0 C0.9,0 1,0.22 1,0.5 C1,0.78 0.9,1 0.5,1 C0.1,1 0,0.78 0,0.5 C0,0.22 0.1,0 0.5,0 Z" transform="translate(533.95,425.75) scale(7.6,6.6)" fill="none" stroke="#1a1a1a" stroke-width="1" vector-effect="non-scaling-stroke"/>
<path d="M0,0.2 L0.95,0.02 M0.95,0 L0.95,1" transform="translate(571.45,456.45) scale(2.9,6.4)" fill="none" stroke="#1a1a1a" stroke-width="1" vector-effect="non-scaling-stroke"/>
<path d="M0.92,0 L0.14,0 L0.08,0.42 C0.22,0.36 0.36,0.35 0.5,0.35 C0.82,0.35 1,0.48 1,0.68 C1,0.9 0.8,1 0.5,1 C0.25,1 0.08,0.95 0,0.84" transform="translate(579.45,456.45) scale(7.1,6.4)" fill="none" stroke="#1a1a1a" stroke-width="1" vector-effect="non-scaling-stroke"/>
<path d="M0.5,0 C0.9,0 1,0.22 1,0.5 C1,0.78 0.9,1 0.5,1 C0.1,1 0,0.78 0,0.5 C0,0.22 0.1,0 0.5,0 Z" transform="translate(591.45,456.45) scale(7.4,6.4)" fill="none" stroke="#1a1a1a" stroke-width="1" vector-effect="non-scaling-stroke"/>
<path d="M0,0.2 L0.95,0.02 M0.95,0 L0.95,1" transform="translate(594.45,518.25) scale(2.9,6.5)" fill="none" stroke="#1a1a1a" stroke-width="1" vector-effect="non-scaling-stroke"/>
<path d="M0.08,0.9 C0.2,0.97 0.35,1 0.5,1 C0.85,1 1,0.75 1,0.4 C1,0.12 0.8,0 0.5,0 C0.2,0 0,0.12 0,0.32 C0,0.52 0.2,0.6 0.5,0.6 C0.8,0.6 1,0.5 1,0.34" transform="translate(602.15,518.25) scale(7.4,6.5)" fill="none" stroke="#1a1a1a" stroke-width="1" vector-effect="non-scaling-stroke"/>
<path d="M0.5,0 C0.9,0 1,0.22 1,0.5 C1,0.78 0.9,1 0.5,1 C0.1,1 0,0.78 0,0.5 C0,0.22 0.1,0 0.5,0 Z" transform="translate(613.55,518.25) scale(6.5,6.5)" fill="none" stroke="#1a1a1a" stroke-width="1" vector-effect="non-scaling-stroke"/>
<path d="M0.08,0 L0.08,1 M0.95,0.3 L0.08,0.72 M0.4,0.58 L1,1" transform="translate(510.3,476.4) scale(4.5,6.3)" fill="none" stroke="#1a1a1a" stroke-width="0.95" vector-effect="non-scaling-stroke"/>
<path d="M0.03,0.23 L0.03,1 M0.03,0.42 Q0.12,0.23 0.3,0.23 Q0.48,0.23 0.48,0.42 L0.48,1 M0.52,0.42 Q0.62,0.23 0.8,0.23 Q0.97,0.23 0.97,0.42 L0.97,1" transform="translate(519.2,476.2) scale(10.9,6.5)" fill="none" stroke="#1a1a1a" stroke-width="0.95" vector-effect="non-scaling-stroke"/>
<path d="M0,1.05 L1,0.25" transform="translate(533.2,474) scale(5.4,10.6)" fill="none" stroke="#1a1a1a" stroke-width="1" vector-effect="non-scaling-stroke"/>
<path d="M0.08,0 L0.08,1 M0.08,0.42 Q0.2,0.23 0.5,0.23 Q0.92,0.23 0.92,0.42 L0.92,1" transform="translate(543.2,476.4) scale(5.4,6.3)" fill="none" stroke="#1a1a1a" stroke-width="0.95" vector-effect="non-scaling-stroke"/>
<ellipse cx="530.3" cy="519.3" rx="13.4" ry="14.4" fill="none" stroke="#1a1a1a" stroke-width="1" />
<path d="M543.25,505.66 L447.66,580.92 L449.34,583.08 L545.95,509.14 L546.35,508.73 L546.64,508.23 L546.78,507.67 L546.78,507.1 L546.63,506.55 L546.34,506.05 L545.93,505.65 L545.43,505.36 L544.87,505.22 L544.3,505.22 L543.75,505.37 Z" fill="#fff" stroke="#1a1a1a" stroke-width="0.95" stroke-linejoin="round"/>
<ellipse cx="555" cy="540.9" rx="6.9" ry="7.4" fill="none" stroke="#1a1a1a" stroke-width="1" />
<path d="M548.9,537.0 L561.1,537.0 L555.0,548.1 Z" fill="none" stroke="#1a1a1a" stroke-width="1"/>
<path d="M0,1 L0,0 L0.6,0 C0.9,0 1,0.12 1,0.26 C1,0.4 0.9,0.52 0.6,0.52 L0,0.52 M0.55,0.52 L1,1" transform="translate(563,543.2) scale(6,7.4)" fill="none" stroke="#1a1a1a" stroke-width="1" vector-effect="non-scaling-stroke"/>
<path d="M513,554.4 L548,554.4 M513.1,554.4 L513.1,563.4 L548.4,563.4 L548.4,555.8" fill="none" stroke="#1a1a1a" stroke-width="1"/>
<rect x="496.6" y="572.3" width="69.2" height="38.2" rx="7" fill="none" stroke="#1a1a1a" stroke-width="1.2"/>
<rect x="517.54" y="577.6" width="5.32" height="1.9" fill="none" stroke="#1a1a1a" stroke-width="1.1"/>
<rect x="517.54" y="581.75" width="5.32" height="1.9" fill="none" stroke="#1a1a1a" stroke-width="1.1"/>
<rect x="517.54" y="585.9" width="5.32" height="1.9" fill="none" stroke="#1a1a1a" stroke-width="1.1"/>
<rect x="516.4" y="578.74" width="1.9" height="3.2" fill="none" stroke="#1a1a1a" stroke-width="1.1"/>
<rect x="516.4" y="583.46" width="1.9" height="3.2" fill="none" stroke="#1a1a1a" stroke-width="1.1"/>
<rect x="522.1" y="578.74" width="1.9" height="3.2" fill="none" stroke="#1a1a1a" stroke-width="1.1"/>
<rect x="522.1" y="583.46" width="1.9" height="3.2" fill="none" stroke="#1a1a1a" stroke-width="1.1"/>
<rect x="526.04" y="577.6" width="5.32" height="1.9" fill="none" stroke="#1a1a1a" stroke-width="1.1"/>
<rect x="526.04" y="581.75" width="5.32" height="1.9" fill="none" stroke="#1a1a1a" stroke-width="1.1"/>
<rect x="526.04" y="585.9" width="5.32" height="1.9" fill="none" stroke="#1a1a1a" stroke-width="1.1"/>
<rect x="524.9" y="578.74" width="1.9" height="3.2" fill="none" stroke="#1a1a1a" stroke-width="1.1"/>
<rect x="524.9" y="583.46" width="1.9" height="3.2" fill="none" stroke="#1a1a1a" stroke-width="1.1"/>
<rect x="530.6" y="578.74" width="1.9" height="3.2" fill="none" stroke="#1a1a1a" stroke-width="1.1"/>
<rect x="530.6" y="583.46" width="1.9" height="3.2" fill="none" stroke="#1a1a1a" stroke-width="1.1"/>
<rect x="534.54" y="577.6" width="5.32" height="1.9" fill="none" stroke="#1a1a1a" stroke-width="1.1"/>
<rect x="534.54" y="581.75" width="5.32" height="1.9" fill="none" stroke="#1a1a1a" stroke-width="1.1"/>
<rect x="534.54" y="585.9" width="5.32" height="1.9" fill="none" stroke="#1a1a1a" stroke-width="1.1"/>
<rect x="533.4" y="578.74" width="1.9" height="3.2" fill="none" stroke="#1a1a1a" stroke-width="1.1"/>
<rect x="533.4" y="583.46" width="1.9" height="3.2" fill="none" stroke="#1a1a1a" stroke-width="1.1"/>
<rect x="539.1" y="578.74" width="1.9" height="3.2" fill="none" stroke="#1a1a1a" stroke-width="1.1"/>
<rect x="539.1" y="583.46" width="1.9" height="3.2" fill="none" stroke="#1a1a1a" stroke-width="1.1"/>
<rect x="543.04" y="577.6" width="5.32" height="1.9" fill="none" stroke="#1a1a1a" stroke-width="1.1"/>
<rect x="543.04" y="581.75" width="5.32" height="1.9" fill="none" stroke="#1a1a1a" stroke-width="1.1"/>
<rect x="543.04" y="585.9" width="5.32" height="1.9" fill="none" stroke="#1a1a1a" stroke-width="1.1"/>
<rect x="541.9" y="578.74" width="1.9" height="3.2" fill="none" stroke="#1a1a1a" stroke-width="1.1"/>
<rect x="541.9" y="583.46" width="1.9" height="3.2" fill="none" stroke="#1a1a1a" stroke-width="1.1"/>
<rect x="547.6" y="578.74" width="1.9" height="3.2" fill="none" stroke="#1a1a1a" stroke-width="1.1"/>
<rect x="547.6" y="583.46" width="1.9" height="3.2" fill="none" stroke="#1a1a1a" stroke-width="1.1"/>
<line x1="514" y1="578.5" x2="514" y2="587.5" stroke="#1a1a1a" stroke-width="1.3" stroke-linecap="butt"/>
<rect x="500.82" y="592.8" width="6.16" height="2.2" fill="none" stroke="#1a1a1a" stroke-width="1.1"/>
<rect x="500.82" y="598.5" width="6.16" height="2.2" fill="none" stroke="#1a1a1a" stroke-width="1.1"/>
<rect x="500.82" y="604.2" width="6.16" height="2.2" fill="none" stroke="#1a1a1a" stroke-width="1.1"/>
<rect x="499.5" y="594.12" width="2.2" height="4.6" fill="none" stroke="#1a1a1a" stroke-width="1.1"/>
<rect x="499.5" y="600.48" width="2.2" height="4.6" fill="none" stroke="#1a1a1a" stroke-width="1.1"/>
<rect x="506.1" y="594.12" width="2.2" height="4.6" fill="none" stroke="#1a1a1a" stroke-width="1.1"/>
<rect x="506.1" y="600.48" width="2.2" height="4.6" fill="none" stroke="#1a1a1a" stroke-width="1.1"/>
<rect x="511.82" y="592.8" width="6.16" height="2.2" fill="none" stroke="#1a1a1a" stroke-width="1.1"/>
<rect x="511.82" y="598.5" width="6.16" height="2.2" fill="none" stroke="#1a1a1a" stroke-width="1.1"/>
<rect x="511.82" y="604.2" width="6.16" height="2.2" fill="none" stroke="#1a1a1a" stroke-width="1.1"/>
<rect x="510.5" y="594.12" width="2.2" height="4.6" fill="none" stroke="#1a1a1a" stroke-width="1.1"/>
<rect x="510.5" y="600.48" width="2.2" height="4.6" fill="none" stroke="#1a1a1a" stroke-width="1.1"/>
<rect x="517.1" y="594.12" width="2.2" height="4.6" fill="none" stroke="#1a1a1a" stroke-width="1.1"/>
<rect x="517.1" y="600.48" width="2.2" height="4.6" fill="none" stroke="#1a1a1a" stroke-width="1.1"/>
<rect x="522.82" y="592.8" width="6.16" height="2.2" fill="none" stroke="#1a1a1a" stroke-width="1.1"/>
<rect x="522.82" y="598.5" width="6.16" height="2.2" fill="none" stroke="#1a1a1a" stroke-width="1.1"/>
<rect x="522.82" y="604.2" width="6.16" height="2.2" fill="none" stroke="#1a1a1a" stroke-width="1.1"/>
<rect x="521.5" y="594.12" width="2.2" height="4.6" fill="none" stroke="#1a1a1a" stroke-width="1.1"/>
<rect x="521.5" y="600.48" width="2.2" height="4.6" fill="none" stroke="#1a1a1a" stroke-width="1.1"/>
<rect x="528.1" y="594.12" width="2.2" height="4.6" fill="none" stroke="#1a1a1a" stroke-width="1.1"/>
<rect x="528.1" y="600.48" width="2.2" height="4.6" fill="none" stroke="#1a1a1a" stroke-width="1.1"/>
<rect x="533.82" y="592.8" width="6.16" height="2.2" fill="none" stroke="#1a1a1a" stroke-width="1.1"/>
<rect x="533.82" y="598.5" width="6.16" height="2.2" fill="none" stroke="#1a1a1a" stroke-width="1.1"/>
<rect x="533.82" y="604.2" width="6.16" height="2.2" fill="none" stroke="#1a1a1a" stroke-width="1.1"/>
<rect x="532.5" y="594.12" width="2.2" height="4.6" fill="none" stroke="#1a1a1a" stroke-width="1.1"/>
<rect x="532.5" y="600.48" width="2.2" height="4.6" fill="none" stroke="#1a1a1a" stroke-width="1.1"/>
<rect x="539.1" y="594.12" width="2.2" height="4.6" fill="none" stroke="#1a1a1a" stroke-width="1.1"/>
<rect x="539.1" y="600.48" width="2.2" height="4.6" fill="none" stroke="#1a1a1a" stroke-width="1.1"/>
<rect x="544.82" y="592.8" width="6.16" height="2.2" fill="none" stroke="#1a1a1a" stroke-width="1.1"/>
<rect x="544.82" y="598.5" width="6.16" height="2.2" fill="none" stroke="#1a1a1a" stroke-width="1.1"/>
<rect x="544.82" y="604.2" width="6.16" height="2.2" fill="none" stroke="#1a1a1a" stroke-width="1.1"/>
<rect x="543.5" y="594.12" width="2.2" height="4.6" fill="none" stroke="#1a1a1a" stroke-width="1.1"/>
<rect x="543.5" y="600.48" width="2.2" height="4.6" fill="none" stroke="#1a1a1a" stroke-width="1.1"/>
<rect x="550.1" y="594.12" width="2.2" height="4.6" fill="none" stroke="#1a1a1a" stroke-width="1.1"/>
<rect x="550.1" y="600.48" width="2.2" height="4.6" fill="none" stroke="#1a1a1a" stroke-width="1.1"/>
<rect x="555.82" y="592.8" width="6.16" height="2.2" fill="none" stroke="#1a1a1a" stroke-width="1.1"/>
<rect x="555.82" y="598.5" width="6.16" height="2.2" fill="none" stroke="#1a1a1a" stroke-width="1.1"/>
<rect x="555.82" y="604.2" width="6.16" height="2.2" fill="none" stroke="#1a1a1a" stroke-width="1.1"/>
<rect x="554.5" y="594.12" width="2.2" height="4.6" fill="none" stroke="#1a1a1a" stroke-width="1.1"/>
<rect x="554.5" y="600.48" width="2.2" height="4.6" fill="none" stroke="#1a1a1a" stroke-width="1.1"/>
<rect x="561.1" y="594.12" width="2.2" height="4.6" fill="none" stroke="#1a1a1a" stroke-width="1.1"/>
<rect x="561.1" y="600.48" width="2.2" height="4.6" fill="none" stroke="#1a1a1a" stroke-width="1.1"/>
<path d="M500.5,578 L503.5,576.5 L505.5,579.5 L503.5,581 Z M504.5,580.5 L508.5,586.5 L507,587" fill="none" stroke="#1a1a1a" stroke-width="1"/>
<path d="M556.5,587.5 L555.5,576 Q557,574.5 559,575 M555.8,580 L559.5,580 M556,583.5 L559,583.5" fill="none" stroke="#1a1a1a" stroke-width="1.1"/>
<path d="M499,591 L499,588.8 M501,591 L501,588.5 M503,591 L503,588.8 M499,591 L505,591 M506.5,591 L506.5,589.5 L509,589.5 L509,591" fill="none" stroke="#1a1a1a" stroke-width="0.7"/>
<path d="M552,591 L552,589 L554,589 L554,591 M555.5,591 L555.5,589 L558,589 L558,591 M559.5,589 L563.5,591.5 M563.5,589 L559.5,591.5" fill="none" stroke="#1a1a1a" stroke-width="0.7"/>
<line x1="233.05" y1="436.73" x2="240.62" y2="427.8" stroke="#fff" stroke-width="1.4"/>
<line x1="600.19" y1="438.79" x2="607.7" y2="430.11" stroke="#fff" stroke-width="1.4"/>
<ellipse cx="302.1" cy="427.25" rx="45.1" ry="47.7" fill="none" stroke="#1a1a1a" stroke-width="1" />
<ellipse cx="302.1" cy="427.05" rx="38.4" ry="40.5" fill="none" stroke="#1a1a1a" stroke-width="1" />
<path d="M269.76,411.84 L270.28,410.65 L270.84,409.48 L271.44,408.34 L272.08,407.22 L272.75,406.12 L273.46,405.04 L274.2,404 L274.98,402.98 L275.79,401.99 L276.64,401.03 L277.51,400.11 L278.41,399.21 L279.35,398.35 L280.31,397.53 L281.29,396.74 L282.3,395.99 L283.34,395.28 L284.4,394.6 L285.48,393.97 L286.58,393.37 L287.7,392.82 L288.84,392.31 L289.99,391.84 L291.16,391.41 L292.34,391.03 L293.54,390.69 L294.74,390.4 L295.95,390.15 L297.17,389.94 L298.4,389.78 L299.63,389.67 L300.86,389.6 L302.1,389.58 L303.34,389.6 L304.57,389.67 L305.8,389.78 L307.03,389.94 L308.25,390.15 L309.46,390.4 L310.66,390.69 L311.86,391.03 L313.04,391.41 L314.21,391.84 L315.36,392.31 L316.5,392.82 L317.62,393.37 L318.72,393.97 L319.8,394.6 L320.86,395.28 L321.9,395.99 L322.91,396.74 L323.89,397.53 L324.85,398.35 L325.79,399.21 L326.69,400.11" fill="none" stroke="#1a1a1a" stroke-width="1"/>
<path d="M328.41,401.99 L329.22,402.98 L330,404 L330.74,405.04 L331.45,406.12 L332.12,407.22 L332.76,408.34 L333.36,409.48 L333.92,410.65 L334.44,411.84" fill="none" stroke="#1a1a1a" stroke-width="1"/>
<path d="M274.33,413.99 L274.78,412.97 L275.26,411.97 L275.77,410.99 L276.32,410.02 L276.9,409.08 L277.51,408.16 L278.14,407.26 L278.81,406.39 L279.51,405.54 L280.23,404.72 L280.98,403.92 L281.76,403.15 L282.56,402.41 L283.38,401.71 L284.23,401.03 L285.1,400.39 L285.99,399.77 L286.9,399.19 L287.83,398.65 L288.77,398.14 L289.74,397.66 L290.71,397.22 L291.7,396.82 L292.71,396.45 L293.72,396.12 L294.75,395.83 L295.78,395.58 L296.82,395.37 L297.87,395.19 L298.92,395.05 L299.98,394.95 L301.04,394.9 L302.1,394.88 L303.16,394.9 L304.22,394.95 L305.28,395.05 L306.33,395.19 L307.38,395.37 L308.42,395.58 L309.45,395.83 L310.48,396.12 L311.49,396.45 L312.5,396.82 L313.49,397.22 L314.46,397.66 L315.43,398.14 L316.37,398.65 L317.3,399.19 L318.21,399.77 L319.1,400.39 L319.97,401.03 L320.82,401.71 L321.64,402.41" fill="none" stroke="#1a1a1a" stroke-width="1"/>
<path d="M324.33,405.12 L325.1,406.03 L325.84,406.97 L326.54,407.93 L327.2,408.93 L327.83,409.94 L328.43,410.99 L328.98,412.05 L329.5,413.14 L329.98,414.25" fill="none" stroke="#1a1a1a" stroke-width="1"/>
<line x1="274.42" y1="414.04" x2="267.37" y2="410.24" stroke="#1a1a1a" stroke-width="1" stroke-linecap="butt"/>
<line x1="327.41" y1="415.99" x2="334.53" y2="411.79" stroke="#1a1a1a" stroke-width="1" stroke-linecap="butt"/>
<line x1="279.17" y1="407.77" x2="274.4" y2="403.74" stroke="#1a1a1a" stroke-width="0.95" stroke-linecap="butt"/>
<line x1="285.5" y1="401.5" x2="282.05" y2="396.18" stroke="#1a1a1a" stroke-width="0.95" stroke-linecap="butt"/>
<line x1="293.29" y1="397.48" x2="291.46" y2="391.31" stroke="#1a1a1a" stroke-width="0.95" stroke-linecap="butt"/>
<line x1="302.36" y1="396.04" x2="302.41" y2="389.58" stroke="#1a1a1a" stroke-width="0.95" stroke-linecap="butt"/>
<line x1="311.64" y1="397.73" x2="313.63" y2="391.62" stroke="#1a1a1a" stroke-width="0.95" stroke-linecap="butt"/>
<line x1="320.34" y1="402.79" x2="324.14" y2="397.73" stroke="#1a1a1a" stroke-width="0.95" stroke-linecap="butt"/>
<circle cx="274.33" cy="413.99" r="0.9" fill="#1a1a1a"/>
<circle cx="278.31" cy="407.04" r="0.9" fill="#1a1a1a"/>
<circle cx="284.88" cy="400.54" r="0.9" fill="#1a1a1a"/>
<circle cx="292.96" cy="396.37" r="0.9" fill="#1a1a1a"/>
<circle cx="312" cy="396.63" r="0.9" fill="#1a1a1a"/>
<circle cx="321.02" cy="401.88" r="0.9" fill="#1a1a1a"/>
<circle cx="330.08" cy="414.51" r="0.9" fill="#1a1a1a"/>
<ellipse cx="302.1" cy="450.3" rx="6.6" ry="7" fill="none" stroke="#1a1a1a" stroke-width="1" />
<ellipse cx="395.5" cy="427.25" rx="45.1" ry="47.7" fill="none" stroke="#1a1a1a" stroke-width="1" />
<ellipse cx="395.5" cy="427.05" rx="38.4" ry="40.5" fill="none" stroke="#1a1a1a" stroke-width="1" />
<path d="M363.16,411.84 L363.68,410.65 L364.24,409.48 L364.84,408.34 L365.48,407.22 L366.15,406.12 L366.86,405.04 L367.6,404 L368.38,402.98 L369.19,401.99 L370.04,401.03 L370.91,400.11 L371.81,399.21 L372.75,398.35 L373.71,397.53 L374.69,396.74 L375.7,395.99 L376.74,395.28 L377.8,394.6 L378.88,393.97 L379.98,393.37 L381.1,392.82 L382.24,392.31 L383.39,391.84 L384.56,391.41 L385.74,391.03 L386.94,390.69 L388.14,390.4 L389.35,390.15 L390.57,389.94 L391.8,389.78 L393.03,389.67 L394.26,389.6 L395.5,389.58 L396.74,389.6 L397.97,389.67 L399.2,389.78 L400.43,389.94 L401.65,390.15 L402.86,390.4 L404.06,390.69 L405.26,391.03 L406.44,391.41 L407.61,391.84 L408.76,392.31 L409.9,392.82 L411.02,393.37 L412.12,393.97 L413.2,394.6 L414.26,395.28 L415.3,395.99 L416.31,396.74 L417.29,397.53 L418.25,398.35 L419.19,399.21 L420.09,400.11" fill="none" stroke="#1a1a1a" stroke-width="1"/>
<path d="M421.81,401.99 L422.62,402.98 L423.4,404 L424.14,405.04 L424.85,406.12 L425.52,407.22 L426.16,408.34 L426.76,409.48 L427.32,410.65 L427.84,411.84" fill="none" stroke="#1a1a1a" stroke-width="1"/>
<path d="M367.73,413.99 L368.18,412.97 L368.66,411.97 L369.17,410.99 L369.72,410.02 L370.3,409.08 L370.91,408.16 L371.54,407.26 L372.21,406.39 L372.91,405.54 L373.63,404.72 L374.38,403.92 L375.16,403.15 L375.96,402.41 L376.78,401.71 L377.63,401.03 L378.5,400.39 L379.39,399.77 L380.3,399.19 L381.23,398.65 L382.17,398.14 L383.14,397.66 L384.11,397.22 L385.1,396.82 L386.11,396.45 L387.12,396.12 L388.15,395.83 L389.18,395.58 L390.22,395.37 L391.27,395.19 L392.32,395.05 L393.38,394.95 L394.44,394.9 L395.5,394.88 L396.56,394.9 L397.62,394.95 L398.68,395.05 L399.73,395.19 L400.78,395.37 L401.82,395.58 L402.85,395.83 L403.88,396.12 L404.89,396.45 L405.9,396.82 L406.89,397.22 L407.86,397.66 L408.83,398.14 L409.77,398.65 L410.7,399.19 L411.61,399.77 L412.5,400.39 L413.37,401.03 L414.22,401.71 L415.04,402.41" fill="none" stroke="#1a1a1a" stroke-width="1"/>
<path d="M417.73,405.12 L418.5,406.03 L419.24,406.97 L419.94,407.93 L420.6,408.93 L421.23,409.94 L421.83,410.99 L422.38,412.05 L422.9,413.14 L423.38,414.25" fill="none" stroke="#1a1a1a" stroke-width="1"/>
<line x1="367.82" y1="414.04" x2="360.77" y2="410.24" stroke="#1a1a1a" stroke-width="1" stroke-linecap="butt"/>
<line x1="420.81" y1="415.99" x2="427.93" y2="411.79" stroke="#1a1a1a" stroke-width="1" stroke-linecap="butt"/>
<line x1="372.57" y1="407.77" x2="367.8" y2="403.74" stroke="#1a1a1a" stroke-width="0.95" stroke-linecap="butt"/>
<line x1="378.9" y1="401.5" x2="375.45" y2="396.18" stroke="#1a1a1a" stroke-width="0.95" stroke-linecap="butt"/>
<line x1="386.69" y1="397.48" x2="384.86" y2="391.31" stroke="#1a1a1a" stroke-width="0.95" stroke-linecap="butt"/>
<line x1="395.76" y1="396.04" x2="395.81" y2="389.58" stroke="#1a1a1a" stroke-width="0.95" stroke-linecap="butt"/>
<line x1="405.04" y1="397.73" x2="407.03" y2="391.62" stroke="#1a1a1a" stroke-width="0.95" stroke-linecap="butt"/>
<line x1="413.74" y1="402.79" x2="417.54" y2="397.73" stroke="#1a1a1a" stroke-width="0.95" stroke-linecap="butt"/>
<circle cx="367.73" cy="413.99" r="0.9" fill="#1a1a1a"/>
<circle cx="371.71" cy="407.04" r="0.9" fill="#1a1a1a"/>
<circle cx="378.28" cy="400.54" r="0.9" fill="#1a1a1a"/>
<circle cx="386.36" cy="396.37" r="0.9" fill="#1a1a1a"/>
<circle cx="405.4" cy="396.63" r="0.9" fill="#1a1a1a"/>
<circle cx="414.42" cy="401.88" r="0.9" fill="#1a1a1a"/>
<circle cx="423.48" cy="414.51" r="0.9" fill="#1a1a1a"/>
<ellipse cx="395.5" cy="450.3" rx="6.6" ry="7" fill="none" stroke="#1a1a1a" stroke-width="1" />
<path d="M330.18,389.92 L330.99,390.62 L331.79,391.34 L332.57,392.08 L333.33,392.84 L334.08,393.62 L334.81,394.42" fill="none" stroke="#fff" stroke-width="2.6"/>
<path d="M328.77,397.92 L329.09,398.25 L329.41,398.58 L329.72,398.92 L330.03,399.26 L330.34,399.6 L330.64,399.95" fill="none" stroke="#fff" stroke-width="2.6"/>
<path d="M425.09,391.25 L425.38,391.52 L425.68,391.8 L425.97,392.08 L426.26,392.36 L426.54,392.65 L426.83,392.94" fill="none" stroke="#fff" stroke-width="2.6"/>
<path d="M421.79,397.53 L422.16,397.9 L422.53,398.28 L422.89,398.66 L423.25,399.05 L423.6,399.45 L423.95,399.85" fill="none" stroke="#fff" stroke-width="2.6"/>
<path d="M277.01,387.61 L277.32,387.4 L277.62,387.19 L277.93,386.98 L278.25,386.77 L278.56,386.56 L278.87,386.36" fill="none" stroke="#fff" stroke-width="2.6"/>
<path d="M267.42,412.25 L307.02,458.05 L308.98,456.35 L269.38,410.55 L269.13,410.32 L268.83,410.17 L268.49,410.1 L268.16,410.12 L267.83,410.23 L267.55,410.42 L267.32,410.67 L267.17,410.97 L267.1,411.31 L267.12,411.64 L267.23,411.97 Z" fill="#fff" stroke="#1a1a1a" stroke-width="0.95" stroke-linejoin="round"/>
<path d="M360.81,411.84 L400.31,458.44 L402.29,456.76 L362.79,410.16 L362.54,409.93 L362.24,409.78 L361.91,409.7 L361.57,409.72 L361.24,409.82 L360.96,410.01 L360.73,410.26 L360.58,410.56 L360.5,410.89 L360.52,411.23 L360.62,411.56 Z" fill="#fff" stroke="#1a1a1a" stroke-width="0.95" stroke-linejoin="round"/>
<path d="M0,0 L1,0 L0.4,1" transform="translate(281.5,407.3) scale(5.6,4.6)" fill="none" stroke="#1a1a1a" stroke-width="1" vector-effect="non-scaling-stroke"/>
<path d="M0.5,0 C0.9,0 1,0.22 1,0.5 C1,0.78 0.9,1 0.5,1 C0.1,1 0,0.78 0,0.5 C0,0.22 0.1,0 0.5,0 Z" transform="translate(290.6,406.7) scale(6.2,6.1)" fill="none" stroke="#1a1a1a" stroke-width="1" vector-effect="non-scaling-stroke"/>
<path d="M0.08,0.9 C0.2,0.97 0.35,1 0.5,1 C0.85,1 1,0.75 1,0.4 C1,0.12 0.8,0 0.5,0 C0.2,0 0,0.12 0,0.32 C0,0.52 0.2,0.6 0.5,0.6 C0.8,0.6 1,0.5 1,0.34" transform="translate(296.5,399.6) scale(5.1,5.8)" fill="none" stroke="#1a1a1a" stroke-width="1" vector-effect="non-scaling-stroke"/>
<path d="M0.5,0 C0.9,0 1,0.22 1,0.5 C1,0.78 0.9,1 0.5,1 C0.1,1 0,0.78 0,0.5 C0,0.22 0.1,0 0.5,0 Z" transform="translate(305.4,399.2) scale(6.4,6.4)" fill="none" stroke="#1a1a1a" stroke-width="1" vector-effect="non-scaling-stroke"/>
<path d="M312,419.5 L312,426.5 M313.2,420 L313.2,426.5 M314,421 L315.5,421 M314,423.5 L316.2,423.5 M314,425.5 L315.5,425.5 M306.2,427.5 Q308,426.5 309.5,428.5 M313.2,428.5 Q315,426.5 318.8,427.2 M307.5,430.2 Q309,432 311,430.5 Q313,429.5 314.5,431 Q316,432.3 317.8,431" fill="none" stroke="#1a1a1a" stroke-width="1.1"/>
<rect x="311.4" y="419.6" width="2.4" height="7.4" fill="#1a1a1a"/>
<path d="M312.5,426.5 L312.5,430.5" stroke="#1a1a1a" stroke-width="1.3"/>
<path d="M0,0.2 L0.95,0.02 M0.95,0 L0.95,1" transform="translate(389.6,402.8) scale(2.8,4.6)" fill="none" stroke="#1a1a1a" stroke-width="1" vector-effect="non-scaling-stroke"/>
<path d="M0,1.05 L1,0.25" transform="translate(391.4,400.2) scale(7.2,14)" fill="none" stroke="#1a1a1a" stroke-width="1" vector-effect="non-scaling-stroke"/>
<path d="M396.8,407.6 Q398.6,406.3 400.2,407.2 Q401,408.4 397,411.6 L401.8,411.6" fill="none" stroke="#1a1a1a" stroke-width="1"/>
<path d="M372.5,419.5 L377.5,419.5 L377.5,423.3 L372.5,423.3 Z" fill="none" stroke="#1a1a1a" stroke-width="1"/>
<path d="M0,0.2 L0.95,0.02 M0.95,0 L0.95,1" transform="translate(415,420.5) scale(3.6,4.6)" fill="none" stroke="#1a1a1a" stroke-width="1" vector-effect="non-scaling-stroke"/>
<path d="M401.8,434.6 L410.2,434.6 M403.6,434.4 L403.6,422.8 L409.0,422.8 L409.0,434.4 M403.6,427.2 L409.0,427.2 M405.6,424.2 L405.6,426.2 M409,424.8 Q411.4,425.2 411.6,427.8 L411.6,431.4 Q412.4,433.2 413.4,431.6 L413.4,427 L411.8,424.6 M410.6,432.2 L410.6,433.6" fill="none" stroke="#1a1a1a" stroke-width="1.15"/>
<ellipse cx="367.1" cy="438.6" rx="4.4" ry="4.7" fill="none" stroke="#1a1a1a" stroke-width="1" />
<ellipse cx="275.1" cy="590.3" rx="8" ry="8" fill="none" stroke="#1a1a1a" stroke-width="1.05" />
<ellipse cx="420.8" cy="590.6" rx="7.7" ry="7.7" fill="none" stroke="#1a1a1a" stroke-width="1.05" />
<path d="M279.8,583.83 L280.06,584.02 L280.31,584.23 L280.56,584.45 L280.79,584.68 L281.01,584.91 L281.23,585.16" fill="none" stroke="#fff" stroke-width="2.2"/>
<path d="M425.54,584.53 L425.75,584.7 L425.95,584.88 L426.15,585.06 L426.34,585.25 L426.52,585.45 L426.7,585.65" fill="none" stroke="#fff" stroke-width="2.2"/>
<path d="M369.62,434.75 L369.9,434.97 L370.16,435.22 L370.4,435.49 L370.61,435.77 L370.81,436.07 L370.98,436.39" fill="none" stroke="#fff" stroke-width="2"/>
<path d="M292.5,493 Q292.5,479.5 305.5,478.8 Q348,476.6 390.5,478.8 Q403.7,479.5 403.7,493 L403.7,600.5 Q403.7,608.8 395.5,608.8 L300.7,608.8 Q292.5,608.8 292.5,600.5 Z" fill="none" stroke="#1a1a1a" stroke-width="1.05"/>
<rect x="296.6" y="497.7" width="102.7" height="107.5" rx="6.5" fill="none" stroke="#1a1a1a" stroke-width="1.15"/>
<path d="M0.95,0.15 C0.85,0.03 0.7,0 0.5,0 C0.2,0 0.05,0.1 0.05,0.27 C0.05,0.45 0.3,0.48 0.5,0.5 C0.75,0.52 1,0.58 1,0.75 C1,0.92 0.8,1 0.5,1 C0.3,1 0.1,0.95 0,0.85" transform="translate(332.1,484.7) scale(6.7,9)" fill="none" stroke="#1a1a1a" stroke-width="0.9" vector-effect="non-scaling-stroke"/>
<path d="M0,0 L1,0 M0.5,0 L0.5,1" transform="translate(342.4,484.7) scale(7.7,9)" fill="none" stroke="#1a1a1a" stroke-width="0.9" vector-effect="non-scaling-stroke"/>
<path d="M0.5,0 C0.93,0 1,0.28 1,0.5 C1,0.72 0.93,1 0.5,1 C0.07,1 0,0.72 0,0.5 C0,0.28 0.07,0 0.5,0 Z" transform="translate(352.9,484.7) scale(8.2,9)" fill="none" stroke="#1a1a1a" stroke-width="0.9" vector-effect="non-scaling-stroke"/>
<path d="M0,1 L0,0 L0.6,0 C0.9,0 1,0.12 1,0.27 C1,0.42 0.9,0.54 0.6,0.54 L0,0.54" transform="translate(364.9,484.7) scale(6.7,9)" fill="none" stroke="#1a1a1a" stroke-width="0.9" vector-effect="non-scaling-stroke"/>
<path d="M306,488.3 L313.7,481.4 L313.7,485.4 L323.1,485.4 L323.1,491.4 L313.7,491.4 L313.7,495.1 Z" fill="none" stroke="#1a1a1a" stroke-width="1"/>
<path d="M390,488.3 L382.3,481.4 L382.3,485.4 L372.9,485.4 L372.9,491.4 L382.3,491.4 L382.3,495.1 Z" fill="none" stroke="#1a1a1a" stroke-width="1"/>
<ellipse cx="305.3" cy="511.8" rx="4.2" ry="5.4" fill="none" stroke="#1a1a1a" stroke-width="1.5" />
<path d="M300.2,507 Q297.6,511.8 300.2,516.6 M299.0,508 Q297.4,511.8 299.0,515.6 M310.4,507 Q313,511.8 310.4,516.6 M311.6,508 Q313.2,511.8 311.6,515.6" fill="none" stroke="#1a1a1a" stroke-width="1" stroke-linecap="round" stroke-linejoin="round"/>
<path d="M305.3,508.3 L305.3,513.6 M304.4,508.6 L306.3,508.6 M305.3,515.2 L305.3,515.9" fill="none" stroke="#1a1a1a" stroke-width="1.4" stroke-linecap="round" stroke-linejoin="round"/>
<rect x="324.6" y="507.3" width="18.6" height="10.9" fill="none" stroke="#1a1a1a" stroke-width="1.6"/>
<rect x="326.4" y="509.0" width="15.0" height="7.5" fill="none" stroke="#1a1a1a" stroke-width="0.8"/>
<path d="M328,506.8 L329,505.2 L330.3,505.2 M337.2,506.8 L338.2,505.2 L339.6,505.2" fill="none" stroke="#1a1a1a" stroke-width="1" stroke-linecap="round" stroke-linejoin="round"/>
<path d="M327.4,511.9 L331.2,511.9 M336.8,511.9 L341,511.9 M338.9,509.8 L338.9,514.2" fill="none" stroke="#1a1a1a" stroke-width="1.4" stroke-linecap="round" stroke-linejoin="round"/>
<path d="M352.6,508.2 L354.6,507.6 L356.4,511.2 L353.8,513.2 Z M355.8,510.8 L360.8,509.6 L362.6,510.4 L365.6,509.6 M361.5,508.2 L364.6,507.8 M366.2,511.4 L369.4,509.6 L370.8,510.6 L373,509.8 M356.2,512.4 L356.2,516.6 L365.8,516.6 L370.6,512.4 M372.8,514.6 L373.3,516.6" fill="none" stroke="#1a1a1a" stroke-width="1.25" stroke-linecap="round" stroke-linejoin="round"/>
<path d="M356.4,514.6 L365.4,514.6 L369.8,512.2 L365.6,516.8 L356.4,516.8 Z" fill="#1a1a1a"/>
<ellipse cx="390.8" cy="512.3" rx="4.6" ry="5.5" fill="none" stroke="#1a1a1a" stroke-width="1.3" />
<path d="M385.6,507.4 Q383.2,512.3 385.6,517.2 M384.4,508.4 Q382.8,512.3 384.4,516.2 M396,507.4 Q398.4,512.3 396,517.2 M397.2,508.4 Q398.8,512.3 397.2,516.2" fill="none" stroke="#1a1a1a" stroke-width="1" stroke-linecap="round" stroke-linejoin="round"/>
<path d="M392.6,509.4 Q389.6,508.6 389.5,510.6 Q389.6,512.3 391.3,512.6 Q393.2,513.3 392.7,515 Q391.6,516.2 389.3,515.3" fill="none" stroke="#1a1a1a" stroke-width="1.2" stroke-linecap="round" stroke-linejoin="round"/>
<path d="M308.8,526.8 Q309.6,524.4 311.3,525.4 Q312.6,527.4 310.6,528.8 Z M309.6,529.2 Q307.2,532.6 306.6,536.2 M312.2,530.4 Q313.6,533 313.8,535.6 M306.8,538.4 Q308,541.4 310.6,539.6 Q312.2,542.6 314.6,540.2 Q316.2,541.6 317,539.2 M308.4,537.2 Q311.6,536.2 316.4,537.4 M309,543.4 Q312,544.2 315.4,542.6" fill="none" stroke="#1a1a1a" stroke-width="1.15" stroke-linecap="round" stroke-linejoin="round"/>
<path d="M304.6,540.6 L316.4,528.4" fill="none" stroke="#1a1a1a" stroke-width="2.1" stroke-linecap="round" stroke-linejoin="round"/>
<path d="M330,531.8 L330,539 L331.6,539 L334,541.2 L341.6,541.2 L341.6,539.2 M330,531.8 L332.6,531.8 L332.6,529.2 L337.8,529.2 L337.8,531.4 L339.6,533.4 L341.8,533.4 M343.4,533.8 L343.4,541.4 M339.2,538.2 L342.2,538.2" fill="none" stroke="#1a1a1a" stroke-width="1.2" stroke-linecap="round" stroke-linejoin="round"/>
<rect x="327.1" y="531.3" width="3.0" height="8.6" fill="#1a1a1a" fill-opacity="0.85"/>
<rect x="332.6" y="528.5" width="5.2" height="2.0" fill="#1a1a1a" fill-opacity="0.55"/>
<path d="M0,1 L0.5,0 L1,1 M0.2,0.62 L0.8,0.62" transform="translate(350.8,528.6) scale(4.8,5.7)" fill="none" stroke="#1a1a1a" stroke-width="0.95" vector-effect="non-scaling-stroke"/>
<path d="M0.5,0 L0.5,1 M0.2,0 L0.8,0 M0.2,1 L0.8,1" transform="translate(357.4,528.6) scale(3,5.7)" fill="none" stroke="#1a1a1a" stroke-width="0.95" vector-effect="non-scaling-stroke"/>
<path d="M0,1 L0,0 L0.6,0 C0.9,0 1,0.12 1,0.26 C1,0.4 0.9,0.52 0.6,0.52 L0,0.52 M0.55,0.52 L1,1" transform="translate(363.3,528.6) scale(5.2,5.7)" fill="none" stroke="#1a1a1a" stroke-width="0.95" vector-effect="non-scaling-stroke"/>
<path d="M0,0 L0,1 L0.6,1 C0.9,1 1,0.88 1,0.74 C1,0.58 0.85,0.48 0.55,0.48 L0,0.48 M0,0 L0.55,0 C0.8,0 0.92,0.1 0.92,0.24 C0.92,0.38 0.8,0.48 0.55,0.48" transform="translate(350.6,536.4) scale(4.7,5.9)" fill="none" stroke="#1a1a1a" stroke-width="0.95" vector-effect="non-scaling-stroke"/>
<path d="M0,1 L0.5,0 L1,1 M0.2,0.62 L0.8,0.62" transform="translate(356.5,536.4) scale(5,5.9)" fill="none" stroke="#1a1a1a" stroke-width="0.95" vector-effect="non-scaling-stroke"/>
<path d="M0.95,0.15 C0.85,0.03 0.7,0 0.5,0 C0.1,0 0,0.28 0,0.5 C0,0.72 0.1,1 0.5,1 C0.75,1 0.9,0.95 1,0.85 L1,0.55 L0.55,0.55" transform="translate(363.3,536.4) scale(5.4,5.9)" fill="none" stroke="#1a1a1a" stroke-width="0.95" vector-effect="non-scaling-stroke"/>
<path d="M0.5,0 C0.93,0 1,0.28 1,0.5 C1,0.72 0.93,1 0.5,1 C0.07,1 0,0.72 0,0.5 C0,0.28 0.07,0 0.5,0 Z" transform="translate(376.5,528.6) scale(4.5,5.9)" fill="none" stroke="#1a1a1a" stroke-width="0.95" vector-effect="non-scaling-stroke"/>
<path d="M1,0 L0,0 L0,1 M0,0.48 L0.75,0.48" transform="translate(383,528.6) scale(3.9,5.9)" fill="none" stroke="#1a1a1a" stroke-width="0.95" vector-effect="non-scaling-stroke"/>
<path d="M1,0 L0,0 L0,1 M0,0.48 L0.75,0.48" transform="translate(388.8,528.6) scale(4,5.9)" fill="none" stroke="#1a1a1a" stroke-width="0.95" vector-effect="non-scaling-stroke"/>
<path d="M379.4,537.4 L381.6,545 L383.4,538.6 M380.6,542.4 L383.2,542.4 M384.6,537.8 Q386.8,536.8 387,539 Q387.1,541.2 384.8,541.6 L384.8,544.6 M388.8,537.6 L392.6,537.6 M389.2,540.4 L392.8,540.4 M389.2,543.2 L392.8,543.2 M385.6,544.6 L388.2,543.6" fill="none" stroke="#1a1a1a" stroke-width="1.15" stroke-linecap="round" stroke-linejoin="round"/>
<path d="M309.7,552.7 Q318.6,552.8 318.8,558 Q318.6,563.3 309.7,563.4 Z" fill="none" stroke="#1a1a1a" stroke-width="1.4" stroke-linecap="round" stroke-linejoin="round"/>
<path d="M302.6,557.2 L308,556.1 M302.6,559.6 L308,558.5 M302.6,562 L308,560.9 M302.6,564.4 L308,563.3" fill="none" stroke="#1a1a1a" stroke-width="1.25" stroke-linecap="round" stroke-linejoin="round"/>
<path d="M334.3,553.3 Q343.3,553.4 343.4,558.4 Q343.3,563.6 334.3,563.7 Z" fill="none" stroke="#1a1a1a" stroke-width="1.4" stroke-linecap="round" stroke-linejoin="round"/>
<rect x="327.3" y="553.8" width="6" height="9.8" fill="#1a1a1a" fill-opacity="0.25"/>
<path d="M327.4,554.2 L333.4,554.2 M327.4,556.6 L333.4,556.6 M327.4,559 L333.4,559 M327.4,561.4 L333.4,561.4 M327.4,563.6 L333.4,563.6" fill="none" stroke="#1a1a1a" stroke-width="1.3" stroke-linecap="round" stroke-linejoin="round"/>
<path d="M365,553.3 Q370.5,554 370.5,558.8 Q370.4,563.8 365,564.4 Z" fill="none" stroke="#1a1a1a" stroke-width="1.3" stroke-linecap="round" stroke-linejoin="round"/>
<path d="M353,557.2 L362.6,555 M353,560.6 L362.6,558.4 M353,564 L362.6,561.8 M358.6,553.8 Q356.8,558 359.2,561 Q357.8,564.6 357.6,567.6" fill="none" stroke="#1a1a1a" stroke-width="1.25" stroke-linecap="round" stroke-linejoin="round"/>
<path d="M385,553.3 Q379.3,554 379.2,559.4 Q379.3,565 385,565.6 Z" fill="none" stroke="#1a1a1a" stroke-width="1.3" stroke-linecap="round" stroke-linejoin="round"/>
<path d="M385,556 L391.8,556 M385,559.4 L391.8,559.4 M385,562.8 L391.8,562.8 M388.3,553.6 Q387,557 388.6,559.7 Q387.2,563 388.2,566.2" fill="none" stroke="#1a1a1a" stroke-width="1.25" stroke-linecap="round" stroke-linejoin="round"/>
<path d="M303.4,576.8 Q298.5,577.2 298.4,580.5 L298.4,583.5 M303.4,576.8 Q308.4,577.2 308.5,580.5 L308.5,583.5 M298.4,583.5 L308.5,583.5 M298.6,584 Q298.7,589.6 303.4,589.7 Q308.2,589.6 308.3,584 M296.8,580.3 L298.4,580.3 M308.5,580.3 L310,580.3" fill="none" stroke="#1a1a1a" stroke-width="1.2" stroke-linecap="round" stroke-linejoin="round"/>
<rect x="325.4" y="580" width="17" height="6.6" fill="none" stroke="#1a1a1a" stroke-width="1.2"/>
<rect x="326" y="580.6" width="15.8" height="5.4" fill="#1a1a1a" fill-opacity="0.18"/>
<path d="M329.5,577.2 L335.5,577.2 M332.5,577.2 L332.5,580 M337.5,577.5 L337.5,580 M327,583.8 Q328,581.5 329.5,583 L327.5,585.5 L330,585.5 M331,583.8 Q332,581.5 333.5,583 L331.5,585.5 L334,585.5 M335,583.8 Q336,581.5 337.5,583 L335.5,585.5 L338,585.5 M339.2,582 L341.5,585.5 M341.5,582 L339.2,585.5 M326,587.4 L342.3,587.4" fill="none" stroke="#1a1a1a" stroke-width="0.95" stroke-linecap="round" stroke-linejoin="round"/>
<path d="M355.4,579.4 L361.5,579.4 M356.6,579.5 Q355.6,584 357.3,587.8 Q359,588.5 359.4,586 Q359.8,582.5 358.6,579.6 M361,579.5 Q360.1,584 361.8,587.8 Q363.6,588.5 364,586 Q364.4,582.5 363.2,579.6 M362,579.2 L366.8,579.2" fill="none" stroke="#1a1a1a" stroke-width="1.25" stroke-linecap="round" stroke-linejoin="round"/>
<path d="M388,589.7 Q383.2,586 384.4,581.2 Q386.2,576.8 391,577.3 Q396.3,578.2 396.6,583.5 Q396.5,587.3 394.3,589.6" fill="none" stroke="#1a1a1a" stroke-width="1.5" stroke-linecap="round" stroke-linejoin="round"/>
<path d="M392.6,591 L397.2,590.6 L395.7,587.2 Z" fill="#1a1a1a"/>
<path d="M386.8,586.6 L390.6,582.4 L393.8,586.6 M388,580.6 L393.6,580.6 M387.8,582.2 L393.6,582.2" fill="none" stroke="#1a1a1a" stroke-width="1.2" stroke-linecap="round" stroke-linejoin="round"/>
<path d="M0.74,1 L0.74,0 L0,0.65 L1,0.65" transform="translate(239.72,334.5) skewX(-6) scale(5.4,9.1) translate(0,-1)" fill="none" stroke="#1a1a1a" stroke-width="1" vector-effect="non-scaling-stroke"/>
<path d="M0.5,0 C0.9,0 1,0.22 1,0.5 C1,0.78 0.9,1 0.5,1 C0.1,1 0,0.78 0,0.5 C0,0.22 0.1,0 0.5,0 Z" transform="translate(249.92,334.5) skewX(-6) scale(6.2,9.1) translate(0,-1)" fill="none" stroke="#1a1a1a" stroke-width="1" vector-effect="non-scaling-stroke"/>
<path d="M0.03,0.22 C0.12,0.04 0.3,0 0.5,0 C0.78,0 0.97,0.1 0.97,0.3 C0.97,0.5 0.55,0.7 0,1 L1,1" transform="translate(259.72,334.5) skewX(-6) scale(4.6,9.1) translate(0,-1)" fill="none" stroke="#1a1a1a" stroke-width="1" vector-effect="non-scaling-stroke"/>
<path d="M0.92,0.1 C0.8,0.03 0.65,0 0.5,0 C0.15,0 0,0.25 0,0.6 C0,0.88 0.2,1 0.5,1 C0.8,1 1,0.88 1,0.68 C1,0.48 0.8,0.4 0.5,0.4 C0.2,0.4 0,0.5 0,0.66" transform="translate(269.42,334.5) skewX(-6) scale(5.8,9.1) translate(0,-1)" fill="none" stroke="#1a1a1a" stroke-width="1" vector-effect="non-scaling-stroke"/>
<line x1="263.3" y1="341.2" x2="282" y2="392.5" stroke="#1a1a1a" stroke-width="1" stroke-linecap="butt"/>
</svg>
</body></html>
